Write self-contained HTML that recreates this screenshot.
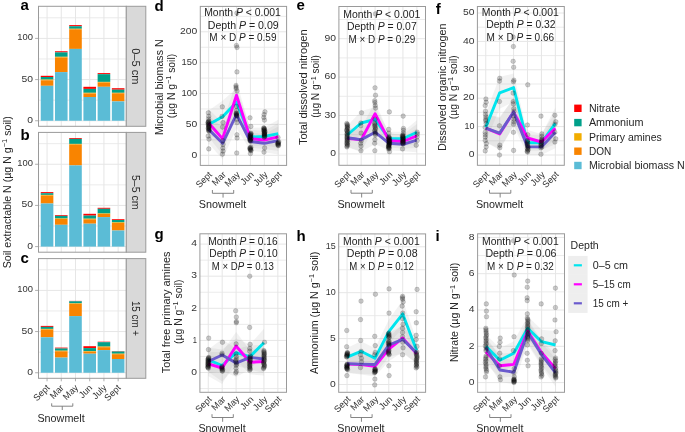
<!DOCTYPE html>
<html><head><meta charset="utf-8"><style>html,body{margin:0;padding:0;background:#fff;}svg{display:block;will-change:transform;}text{font-family:"Liberation Sans", sans-serif;}</style></head>
<body><svg width="685" height="432" viewBox="0 0 685 432"><defs><clipPath id="clipd"><rect x="200.3" y="6.4" width="86.30000000000001" height="159.0"/></clipPath><clipPath id="clipe"><rect x="338.9" y="6.5" width="86.60000000000002" height="158.8"/></clipPath><clipPath id="clipf"><rect x="477.4" y="6.5" width="86.89999999999998" height="158.8"/></clipPath><clipPath id="clipg"><rect x="199.9" y="233.8" width="86.6" height="158.5"/></clipPath><clipPath id="cliph"><rect x="338.7" y="233.9" width="86.90000000000003" height="158.4"/></clipPath><clipPath id="clipi"><rect x="477.6" y="233.8" width="86.89999999999998" height="158.5"/></clipPath></defs>
<rect x="0" y="0" width="685" height="432" fill="#fff"/>
<rect x="38.50" y="6.30" width="87.80" height="120.00" fill="white" />
<line x1="38.50" y1="100.16" x2="126.30" y2="100.16" stroke="#e9e9e9" stroke-width="0.9" />
<line x1="38.50" y1="58.99" x2="126.30" y2="58.99" stroke="#e9e9e9" stroke-width="0.9" />
<line x1="38.50" y1="17.81" x2="126.30" y2="17.81" stroke="#e9e9e9" stroke-width="0.9" />
<line x1="38.50" y1="120.75" x2="126.30" y2="120.75" stroke="#e6e6e6" stroke-width="1" />
<line x1="38.50" y1="79.58" x2="126.30" y2="79.58" stroke="#e6e6e6" stroke-width="1" />
<line x1="38.50" y1="38.40" x2="126.30" y2="38.40" stroke="#e6e6e6" stroke-width="1" />
<line x1="47.05" y1="6.30" x2="47.05" y2="126.30" stroke="#e6e6e6" stroke-width="1" />
<line x1="61.27" y1="6.30" x2="61.27" y2="126.30" stroke="#e6e6e6" stroke-width="1" />
<line x1="75.49" y1="6.30" x2="75.49" y2="126.30" stroke="#e6e6e6" stroke-width="1" />
<line x1="89.71" y1="6.30" x2="89.71" y2="126.30" stroke="#e6e6e6" stroke-width="1" />
<line x1="103.93" y1="6.30" x2="103.93" y2="126.30" stroke="#e6e6e6" stroke-width="1" />
<line x1="118.15" y1="6.30" x2="118.15" y2="126.30" stroke="#e6e6e6" stroke-width="1" />
<rect x="40.75" y="75.80" width="12.60" height="1.20" fill="#FF0000" />
<rect x="40.75" y="77.00" width="12.60" height="2.60" fill="#00A08A" />
<rect x="40.75" y="79.60" width="12.60" height="0.70" fill="#F2AD00" />
<rect x="40.75" y="80.30" width="12.60" height="5.50" fill="#F98400" />
<rect x="40.75" y="85.80" width="12.60" height="34.95" fill="#5BBCD6" />
<rect x="54.97" y="51.25" width="12.60" height="1.15" fill="#FF0000" />
<rect x="54.97" y="52.40" width="12.60" height="4.40" fill="#00A08A" />
<rect x="54.97" y="56.80" width="12.60" height="0.70" fill="#F2AD00" />
<rect x="54.97" y="57.50" width="12.60" height="14.60" fill="#F98400" />
<rect x="54.97" y="72.10" width="12.60" height="48.65" fill="#5BBCD6" />
<rect x="69.19" y="25.10" width="12.60" height="1.15" fill="#FF0000" />
<rect x="69.19" y="26.25" width="12.60" height="2.50" fill="#00A08A" />
<rect x="69.19" y="28.75" width="12.60" height="0.55" fill="#F2AD00" />
<rect x="69.19" y="29.30" width="12.60" height="19.60" fill="#F98400" />
<rect x="69.19" y="48.90" width="12.60" height="71.85" fill="#5BBCD6" />
<rect x="83.41" y="86.80" width="12.60" height="2.10" fill="#FF0000" />
<rect x="83.41" y="88.90" width="12.60" height="3.90" fill="#00A08A" />
<rect x="83.41" y="92.80" width="12.60" height="0.70" fill="#F2AD00" />
<rect x="83.41" y="93.50" width="12.60" height="3.50" fill="#F98400" />
<rect x="83.41" y="97.00" width="12.60" height="23.75" fill="#5BBCD6" />
<rect x="97.63" y="73.10" width="12.60" height="1.10" fill="#FF0000" />
<rect x="97.63" y="74.20" width="12.60" height="7.70" fill="#00A08A" />
<rect x="97.63" y="81.90" width="12.60" height="0.70" fill="#F2AD00" />
<rect x="97.63" y="82.60" width="12.60" height="4.20" fill="#F98400" />
<rect x="97.63" y="86.80" width="12.60" height="33.95" fill="#5BBCD6" />
<rect x="111.85" y="88.20" width="12.60" height="1.50" fill="#FF0000" />
<rect x="111.85" y="89.70" width="12.60" height="3.10" fill="#00A08A" />
<rect x="111.85" y="92.80" width="12.60" height="0.50" fill="#F2AD00" />
<rect x="111.85" y="93.30" width="12.60" height="8.10" fill="#F98400" />
<rect x="111.85" y="101.40" width="12.60" height="19.35" fill="#5BBCD6" />
<rect x="38.50" y="6.30" width="87.80" height="120.00" fill="none" stroke="#9a9a9a" stroke-width="1" />
<rect x="126.30" y="6.30" width="19.50" height="120.00" fill="#d9d9d9" stroke="#9a9a9a" stroke-width="1" />
<text x="136.45" y="66.30" font-size="10.8" text-anchor="middle" dominant-baseline="central" fill="#262626" textLength="36.2" lengthAdjust="spacingAndGlyphs" transform="rotate(90 136.45 66.30)">0–5 cm</text>
<line x1="35.10" y1="120.75" x2="38.50" y2="120.75" stroke="#9a9a9a" stroke-width="0.8" />
<text x="32.90" y="122.75" font-size="9.0" text-anchor="end" font-weight="normal" fill="#333333"  textLength="5.75" lengthAdjust="spacingAndGlyphs" style="">0</text>
<line x1="35.10" y1="79.58" x2="38.50" y2="79.58" stroke="#9a9a9a" stroke-width="0.8" />
<text x="32.90" y="81.58" font-size="9.0" text-anchor="end" font-weight="normal" fill="#333333"  textLength="11.5" lengthAdjust="spacingAndGlyphs" style="">50</text>
<line x1="35.10" y1="38.40" x2="38.50" y2="38.40" stroke="#9a9a9a" stroke-width="0.8" />
<text x="32.90" y="40.40" font-size="9.0" text-anchor="end" font-weight="normal" fill="#333333"  textLength="15.7" lengthAdjust="spacingAndGlyphs" style="">100</text>
<text x="20.60" y="9.80" font-size="15" text-anchor="start" font-weight="bold" fill="#000"  style="">a</text>
<rect x="38.50" y="132.40" width="87.80" height="119.80" fill="white" />
<line x1="38.50" y1="226.01" x2="126.30" y2="226.01" stroke="#e9e9e9" stroke-width="0.9" />
<line x1="38.50" y1="184.84" x2="126.30" y2="184.84" stroke="#e9e9e9" stroke-width="0.9" />
<line x1="38.50" y1="143.66" x2="126.30" y2="143.66" stroke="#e9e9e9" stroke-width="0.9" />
<line x1="38.50" y1="246.60" x2="126.30" y2="246.60" stroke="#e6e6e6" stroke-width="1" />
<line x1="38.50" y1="205.43" x2="126.30" y2="205.43" stroke="#e6e6e6" stroke-width="1" />
<line x1="38.50" y1="164.25" x2="126.30" y2="164.25" stroke="#e6e6e6" stroke-width="1" />
<line x1="47.05" y1="132.40" x2="47.05" y2="252.20" stroke="#e6e6e6" stroke-width="1" />
<line x1="61.27" y1="132.40" x2="61.27" y2="252.20" stroke="#e6e6e6" stroke-width="1" />
<line x1="75.49" y1="132.40" x2="75.49" y2="252.20" stroke="#e6e6e6" stroke-width="1" />
<line x1="89.71" y1="132.40" x2="89.71" y2="252.20" stroke="#e6e6e6" stroke-width="1" />
<line x1="103.93" y1="132.40" x2="103.93" y2="252.20" stroke="#e6e6e6" stroke-width="1" />
<line x1="118.15" y1="132.40" x2="118.15" y2="252.20" stroke="#e6e6e6" stroke-width="1" />
<rect x="40.75" y="192.10" width="12.60" height="1.10" fill="#FF0000" />
<rect x="40.75" y="193.20" width="12.60" height="1.70" fill="#00A08A" />
<rect x="40.75" y="194.90" width="12.60" height="0.60" fill="#F2AD00" />
<rect x="40.75" y="195.50" width="12.60" height="8.00" fill="#F98400" />
<rect x="40.75" y="203.50" width="12.60" height="43.10" fill="#5BBCD6" />
<rect x="54.97" y="215.10" width="12.60" height="0.80" fill="#FF0000" />
<rect x="54.97" y="215.90" width="12.60" height="2.60" fill="#00A08A" />
<rect x="54.97" y="218.50" width="12.60" height="0.50" fill="#F2AD00" />
<rect x="54.97" y="219.00" width="12.60" height="5.80" fill="#F98400" />
<rect x="54.97" y="224.80" width="12.60" height="21.80" fill="#5BBCD6" />
<rect x="69.19" y="138.05" width="12.60" height="0.85" fill="#FF0000" />
<rect x="69.19" y="138.90" width="12.60" height="5.00" fill="#00A08A" />
<rect x="69.19" y="143.90" width="12.60" height="0.70" fill="#F2AD00" />
<rect x="69.19" y="144.60" width="12.60" height="20.80" fill="#F98400" />
<rect x="69.19" y="165.40" width="12.60" height="81.20" fill="#5BBCD6" />
<rect x="83.41" y="213.80" width="12.60" height="1.80" fill="#FF0000" />
<rect x="83.41" y="215.60" width="12.60" height="3.10" fill="#00A08A" />
<rect x="83.41" y="218.70" width="12.60" height="0.60" fill="#F2AD00" />
<rect x="83.41" y="219.30" width="12.60" height="4.40" fill="#F98400" />
<rect x="83.41" y="223.70" width="12.60" height="22.90" fill="#5BBCD6" />
<rect x="97.63" y="207.80" width="12.60" height="1.00" fill="#FF0000" />
<rect x="97.63" y="208.80" width="12.60" height="4.70" fill="#00A08A" />
<rect x="97.63" y="213.50" width="12.60" height="0.50" fill="#F2AD00" />
<rect x="97.63" y="214.00" width="12.60" height="3.10" fill="#F98400" />
<rect x="97.63" y="217.10" width="12.60" height="29.50" fill="#5BBCD6" />
<rect x="111.85" y="219.20" width="12.60" height="0.80" fill="#FF0000" />
<rect x="111.85" y="220.00" width="12.60" height="2.40" fill="#00A08A" />
<rect x="111.85" y="222.40" width="12.60" height="0.60" fill="#F2AD00" />
<rect x="111.85" y="223.00" width="12.60" height="7.50" fill="#F98400" />
<rect x="111.85" y="230.50" width="12.60" height="16.10" fill="#5BBCD6" />
<rect x="38.50" y="132.40" width="87.80" height="119.80" fill="none" stroke="#9a9a9a" stroke-width="1" />
<rect x="126.30" y="132.40" width="19.50" height="119.80" fill="#d9d9d9" stroke="#9a9a9a" stroke-width="1" />
<text x="136.45" y="192.30" font-size="10.8" text-anchor="middle" dominant-baseline="central" fill="#262626" textLength="34.6" lengthAdjust="spacingAndGlyphs" transform="rotate(90 136.45 192.30)">5–5 cm</text>
<line x1="35.10" y1="246.60" x2="38.50" y2="246.60" stroke="#9a9a9a" stroke-width="0.8" />
<text x="32.90" y="248.60" font-size="9.0" text-anchor="end" font-weight="normal" fill="#333333"  textLength="5.75" lengthAdjust="spacingAndGlyphs" style="">0</text>
<line x1="35.10" y1="205.43" x2="38.50" y2="205.43" stroke="#9a9a9a" stroke-width="0.8" />
<text x="32.90" y="207.43" font-size="9.0" text-anchor="end" font-weight="normal" fill="#333333"  textLength="11.5" lengthAdjust="spacingAndGlyphs" style="">50</text>
<line x1="35.10" y1="164.25" x2="38.50" y2="164.25" stroke="#9a9a9a" stroke-width="0.8" />
<text x="32.90" y="166.25" font-size="9.0" text-anchor="end" font-weight="normal" fill="#333333"  textLength="15.7" lengthAdjust="spacingAndGlyphs" style="">100</text>
<text x="20.60" y="139.70" font-size="15" text-anchor="start" font-weight="bold" fill="#000"  style="">b</text>
<rect x="38.50" y="258.60" width="87.80" height="119.70" fill="white" />
<line x1="38.50" y1="352.16" x2="126.30" y2="352.16" stroke="#e9e9e9" stroke-width="0.9" />
<line x1="38.50" y1="310.99" x2="126.30" y2="310.99" stroke="#e9e9e9" stroke-width="0.9" />
<line x1="38.50" y1="269.81" x2="126.30" y2="269.81" stroke="#e9e9e9" stroke-width="0.9" />
<line x1="38.50" y1="372.75" x2="126.30" y2="372.75" stroke="#e6e6e6" stroke-width="1" />
<line x1="38.50" y1="331.57" x2="126.30" y2="331.57" stroke="#e6e6e6" stroke-width="1" />
<line x1="38.50" y1="290.40" x2="126.30" y2="290.40" stroke="#e6e6e6" stroke-width="1" />
<line x1="47.05" y1="258.60" x2="47.05" y2="378.30" stroke="#e6e6e6" stroke-width="1" />
<line x1="61.27" y1="258.60" x2="61.27" y2="378.30" stroke="#e6e6e6" stroke-width="1" />
<line x1="75.49" y1="258.60" x2="75.49" y2="378.30" stroke="#e6e6e6" stroke-width="1" />
<line x1="89.71" y1="258.60" x2="89.71" y2="378.30" stroke="#e6e6e6" stroke-width="1" />
<line x1="103.93" y1="258.60" x2="103.93" y2="378.30" stroke="#e6e6e6" stroke-width="1" />
<line x1="118.15" y1="258.60" x2="118.15" y2="378.30" stroke="#e6e6e6" stroke-width="1" />
<rect x="40.75" y="325.90" width="12.60" height="1.00" fill="#FF0000" />
<rect x="40.75" y="326.90" width="12.60" height="2.00" fill="#00A08A" />
<rect x="40.75" y="328.90" width="12.60" height="0.60" fill="#F2AD00" />
<rect x="40.75" y="329.50" width="12.60" height="7.80" fill="#F98400" />
<rect x="40.75" y="337.30" width="12.60" height="35.45" fill="#5BBCD6" />
<rect x="54.97" y="347.60" width="12.60" height="0.90" fill="#FF0000" />
<rect x="54.97" y="348.50" width="12.60" height="2.20" fill="#00A08A" />
<rect x="54.97" y="350.70" width="12.60" height="0.60" fill="#F2AD00" />
<rect x="54.97" y="351.30" width="12.60" height="6.30" fill="#F98400" />
<rect x="54.97" y="357.60" width="12.60" height="15.15" fill="#5BBCD6" />
<rect x="69.19" y="300.90" width="12.60" height="0.40" fill="#FF0000" />
<rect x="69.19" y="301.30" width="12.60" height="2.00" fill="#00A08A" />
<rect x="69.19" y="303.30" width="12.60" height="0.50" fill="#F2AD00" />
<rect x="69.19" y="303.80" width="12.60" height="12.30" fill="#F98400" />
<rect x="69.19" y="316.10" width="12.60" height="56.65" fill="#5BBCD6" />
<rect x="83.41" y="346.20" width="12.60" height="1.90" fill="#FF0000" />
<rect x="83.41" y="348.10" width="12.60" height="3.00" fill="#00A08A" />
<rect x="83.41" y="351.10" width="12.60" height="0.60" fill="#F2AD00" />
<rect x="83.41" y="351.70" width="12.60" height="2.00" fill="#F98400" />
<rect x="83.41" y="353.70" width="12.60" height="19.05" fill="#5BBCD6" />
<rect x="97.63" y="341.70" width="12.60" height="0.50" fill="#FF0000" />
<rect x="97.63" y="342.20" width="12.60" height="4.40" fill="#00A08A" />
<rect x="97.63" y="346.60" width="12.60" height="0.60" fill="#F2AD00" />
<rect x="97.63" y="347.20" width="12.60" height="2.90" fill="#F98400" />
<rect x="97.63" y="350.10" width="12.60" height="22.65" fill="#5BBCD6" />
<rect x="111.85" y="351.10" width="12.60" height="0.40" fill="#FF0000" />
<rect x="111.85" y="351.50" width="12.60" height="2.20" fill="#00A08A" />
<rect x="111.85" y="353.70" width="12.60" height="0.50" fill="#F2AD00" />
<rect x="111.85" y="354.20" width="12.60" height="4.80" fill="#F98400" />
<rect x="111.85" y="359.00" width="12.60" height="13.75" fill="#5BBCD6" />
<rect x="38.50" y="258.60" width="87.80" height="119.70" fill="none" stroke="#9a9a9a" stroke-width="1" />
<rect x="126.30" y="258.60" width="19.50" height="119.70" fill="#d9d9d9" stroke="#9a9a9a" stroke-width="1" />
<text x="136.45" y="318.45" font-size="10.8" text-anchor="middle" dominant-baseline="central" fill="#262626" textLength="35.0" lengthAdjust="spacingAndGlyphs" transform="rotate(90 136.45 318.45)">15 cm +</text>
<line x1="35.10" y1="372.75" x2="38.50" y2="372.75" stroke="#9a9a9a" stroke-width="0.8" />
<text x="32.90" y="374.75" font-size="9.0" text-anchor="end" font-weight="normal" fill="#333333"  textLength="5.75" lengthAdjust="spacingAndGlyphs" style="">0</text>
<line x1="35.10" y1="331.57" x2="38.50" y2="331.57" stroke="#9a9a9a" stroke-width="0.8" />
<text x="32.90" y="333.57" font-size="9.0" text-anchor="end" font-weight="normal" fill="#333333"  textLength="11.5" lengthAdjust="spacingAndGlyphs" style="">50</text>
<line x1="35.10" y1="290.40" x2="38.50" y2="290.40" stroke="#9a9a9a" stroke-width="0.8" />
<text x="32.90" y="292.40" font-size="9.0" text-anchor="end" font-weight="normal" fill="#333333"  textLength="15.7" lengthAdjust="spacingAndGlyphs" style="">100</text>
<text x="20.60" y="262.60" font-size="15" text-anchor="start" font-weight="bold" fill="#000"  style="">c</text>
<line x1="47.05" y1="378.30" x2="47.05" y2="381.30" stroke="#9a9a9a" stroke-width="0.8" />
<line x1="61.27" y1="378.30" x2="61.27" y2="381.30" stroke="#9a9a9a" stroke-width="0.8" />
<line x1="75.49" y1="378.30" x2="75.49" y2="381.30" stroke="#9a9a9a" stroke-width="0.8" />
<line x1="89.71" y1="378.30" x2="89.71" y2="381.30" stroke="#9a9a9a" stroke-width="0.8" />
<line x1="103.93" y1="378.30" x2="103.93" y2="381.30" stroke="#9a9a9a" stroke-width="0.8" />
<line x1="118.15" y1="378.30" x2="118.15" y2="381.30" stroke="#9a9a9a" stroke-width="0.8" />
<text x="50.25" y="388.30" font-size="9.1" text-anchor="end" fill="#333333" transform="rotate(-45 50.25 388.30)">Sept</text>
<text x="64.47" y="388.30" font-size="9.1" text-anchor="end" fill="#333333" transform="rotate(-45 64.47 388.30)">Mar</text>
<text x="78.69" y="388.30" font-size="9.1" text-anchor="end" fill="#333333" transform="rotate(-45 78.69 388.30)">May</text>
<text x="92.91" y="388.30" font-size="9.1" text-anchor="end" fill="#333333" transform="rotate(-45 92.91 388.30)">Jun</text>
<text x="107.13" y="388.30" font-size="9.1" text-anchor="end" fill="#333333" transform="rotate(-45 107.13 388.30)">July</text>
<text x="121.35" y="388.30" font-size="9.1" text-anchor="end" fill="#333333" transform="rotate(-45 121.35 388.30)">Sept</text>
<polyline points="51.70,403.30 51.70,406.20 72.80,406.20 72.80,403.30" fill="none" stroke="#777" stroke-width="0.9"/>
<line x1="62.25" y1="406.20" x2="62.25" y2="410.00" stroke="#777" stroke-width="0.9" />
<text x="61.10" y="422.00" font-size="10.3" text-anchor="middle" font-weight="normal" fill="#262626"  textLength="47.3" lengthAdjust="spacingAndGlyphs" style="">Snowmelt</text>
<text x="10.6" y="192.3" font-size="10.5" text-anchor="middle" fill="#262626" textLength="152" lengthAdjust="spacingAndGlyphs" transform="rotate(-90 10.6 192.3)">Soil extractable N (µg N g<tspan dy="-3.5" font-size="7.5">−1</tspan><tspan dy="3.5"> soil)</tspan></text>
<rect x="574.20" y="104.60" width="7.40" height="7.40" fill="#FF0000" />
<text x="588.90" y="111.90" font-size="10.1" text-anchor="start" font-weight="normal" fill="#262626"  textLength="31.2" lengthAdjust="spacingAndGlyphs" style="">Nitrate</text>
<rect x="574.20" y="118.90" width="7.40" height="7.40" fill="#00A08A" />
<text x="588.90" y="126.20" font-size="10.1" text-anchor="start" font-weight="normal" fill="#262626"  textLength="54.6" lengthAdjust="spacingAndGlyphs" style="">Ammonium</text>
<rect x="574.20" y="133.20" width="7.40" height="7.40" fill="#F2AD00" />
<text x="588.90" y="140.50" font-size="10.1" text-anchor="start" font-weight="normal" fill="#262626"  textLength="72.9" lengthAdjust="spacingAndGlyphs" style="">Primary amines</text>
<rect x="574.20" y="147.50" width="7.40" height="7.40" fill="#F98400" />
<text x="588.90" y="154.80" font-size="10.1" text-anchor="start" font-weight="normal" fill="#262626"  textLength="22.3" lengthAdjust="spacingAndGlyphs" style="">DON</text>
<rect x="574.20" y="161.80" width="7.40" height="7.40" fill="#5BBCD6" />
<text x="588.90" y="169.10" font-size="10.1" text-anchor="start" font-weight="normal" fill="#262626"  textLength="95.8" lengthAdjust="spacingAndGlyphs" style="">Microbial biomass N</text>
<text x="570.60" y="248.90" font-size="10.1" text-anchor="start" font-weight="normal" fill="#262626"  textLength="28.1" lengthAdjust="spacingAndGlyphs" style="">Depth</text>
<rect x="568.20" y="255.90" width="19.40" height="19.00" fill="#eeeeee" />
<line x1="573.80" y1="265.30" x2="581.90" y2="265.30" stroke="#00E5EE" stroke-width="2.2" />
<text x="592.80" y="268.90" font-size="10.1" text-anchor="start" font-weight="normal" fill="#262626"  textLength="35.2" lengthAdjust="spacingAndGlyphs" style="">0–5 cm</text>
<rect x="568.20" y="274.90" width="19.40" height="19.00" fill="#eeeeee" />
<line x1="573.80" y1="284.30" x2="581.90" y2="284.30" stroke="#FF00FF" stroke-width="2.2" />
<text x="592.80" y="287.90" font-size="10.1" text-anchor="start" font-weight="normal" fill="#262626"  textLength="37.9" lengthAdjust="spacingAndGlyphs" style="">5–15 cm</text>
<rect x="568.20" y="293.90" width="19.40" height="19.00" fill="#eeeeee" />
<line x1="573.80" y1="303.30" x2="581.90" y2="303.30" stroke="#6A5ACD" stroke-width="2.2" />
<text x="592.80" y="306.90" font-size="10.1" text-anchor="start" font-weight="normal" fill="#262626"  textLength="35.5" lengthAdjust="spacingAndGlyphs" style="">15 cm +</text>
<rect x="200.30" y="6.40" width="86.30" height="159.00" fill="white" />
<g clip-path="url(#clipd)">
<line x1="200.30" y1="139.86" x2="286.60" y2="139.86" stroke="#e9e9e9" stroke-width="0.9" />
<line x1="200.30" y1="108.99" x2="286.60" y2="108.99" stroke="#e9e9e9" stroke-width="0.9" />
<line x1="200.30" y1="78.11" x2="286.60" y2="78.11" stroke="#e9e9e9" stroke-width="0.9" />
<line x1="200.30" y1="47.24" x2="286.60" y2="47.24" stroke="#e9e9e9" stroke-width="0.9" />
<line x1="200.30" y1="16.36" x2="286.60" y2="16.36" stroke="#e9e9e9" stroke-width="0.9" />
<line x1="200.30" y1="155.30" x2="286.60" y2="155.30" stroke="#e6e6e6" stroke-width="1" />
<line x1="200.30" y1="124.43" x2="286.60" y2="124.43" stroke="#e6e6e6" stroke-width="1" />
<line x1="200.30" y1="93.55" x2="286.60" y2="93.55" stroke="#e6e6e6" stroke-width="1" />
<line x1="200.30" y1="62.67" x2="286.60" y2="62.67" stroke="#e6e6e6" stroke-width="1" />
<line x1="200.30" y1="31.80" x2="286.60" y2="31.80" stroke="#e6e6e6" stroke-width="1" />
<line x1="208.65" y1="6.40" x2="208.65" y2="165.40" stroke="#e6e6e6" stroke-width="1" />
<line x1="222.57" y1="6.40" x2="222.57" y2="165.40" stroke="#e6e6e6" stroke-width="1" />
<line x1="236.49" y1="6.40" x2="236.49" y2="165.40" stroke="#e6e6e6" stroke-width="1" />
<line x1="250.41" y1="6.40" x2="250.41" y2="165.40" stroke="#e6e6e6" stroke-width="1" />
<line x1="264.33" y1="6.40" x2="264.33" y2="165.40" stroke="#e6e6e6" stroke-width="1" />
<line x1="278.25" y1="6.40" x2="278.25" y2="165.40" stroke="#e6e6e6" stroke-width="1" />
<polygon points="208.65,110.60 222.57,100.80 236.49,88.20 250.41,128.00 264.33,127.50 278.25,119.70 278.25,147.70 264.33,145.50 250.41,146.00 236.49,116.20 222.57,132.80 208.65,138.60" fill="#9a9a9a" fill-opacity="0.13"/>
<polygon points="208.65,109.00 222.57,122.70 236.49,81.20 250.41,129.70 264.33,131.00 278.25,122.90 278.25,150.90 264.33,149.00 250.41,147.70 236.49,109.20 222.57,154.70 208.65,137.00" fill="#9a9a9a" fill-opacity="0.13"/>
<polygon points="208.65,115.40 222.57,127.30 236.49,100.30 250.41,132.50 264.33,134.30 278.25,126.60 278.25,154.60 264.33,152.30 250.41,150.50 236.49,128.30 222.57,159.30 208.65,143.40" fill="#9a9a9a" fill-opacity="0.13"/>
<polyline points="208.65,124.60 222.57,116.80 236.49,102.20 250.41,137.00 264.33,136.50 278.25,133.70" fill="none" stroke="#00E5EE" stroke-width="2.9" stroke-linejoin="round"/>
<polyline points="208.65,123.00 222.57,138.70 236.49,95.20 250.41,138.70 264.33,140.00 278.25,136.90" fill="none" stroke="#FF00FF" stroke-width="2.9" stroke-linejoin="round"/>
<polyline points="208.65,129.40 222.57,143.30 236.49,114.30 250.41,141.50 264.33,143.30 278.25,140.60" fill="none" stroke="#6A5ACD" stroke-width="2.9" stroke-linejoin="round"/>
<circle cx="208.34" cy="112.80" r="2.3" fill="#000" fill-opacity="0.2" stroke="#000" stroke-opacity="0.2" stroke-width="0.7"/>
<circle cx="208.70" cy="116.20" r="2.3" fill="#000" fill-opacity="0.2" stroke="#000" stroke-opacity="0.2" stroke-width="0.7"/>
<circle cx="208.49" cy="119.00" r="2.3" fill="#000" fill-opacity="0.2" stroke="#000" stroke-opacity="0.2" stroke-width="0.7"/>
<circle cx="208.77" cy="121.00" r="2.3" fill="#000" fill-opacity="0.2" stroke="#000" stroke-opacity="0.2" stroke-width="0.7"/>
<circle cx="208.80" cy="121.60" r="2.3" fill="#000" fill-opacity="0.2" stroke="#000" stroke-opacity="0.2" stroke-width="0.7"/>
<circle cx="208.13" cy="122.20" r="2.3" fill="#000" fill-opacity="0.2" stroke="#000" stroke-opacity="0.2" stroke-width="0.7"/>
<circle cx="208.07" cy="122.80" r="2.3" fill="#000" fill-opacity="0.2" stroke="#000" stroke-opacity="0.2" stroke-width="0.7"/>
<circle cx="209.05" cy="123.40" r="2.3" fill="#000" fill-opacity="0.2" stroke="#000" stroke-opacity="0.2" stroke-width="0.7"/>
<circle cx="208.36" cy="124.00" r="2.3" fill="#000" fill-opacity="0.2" stroke="#000" stroke-opacity="0.2" stroke-width="0.7"/>
<circle cx="208.33" cy="124.60" r="2.3" fill="#000" fill-opacity="0.2" stroke="#000" stroke-opacity="0.2" stroke-width="0.7"/>
<circle cx="209.24" cy="125.20" r="2.3" fill="#000" fill-opacity="0.2" stroke="#000" stroke-opacity="0.2" stroke-width="0.7"/>
<circle cx="208.61" cy="125.80" r="2.3" fill="#000" fill-opacity="0.2" stroke="#000" stroke-opacity="0.2" stroke-width="0.7"/>
<circle cx="209.05" cy="126.40" r="2.3" fill="#000" fill-opacity="0.2" stroke="#000" stroke-opacity="0.2" stroke-width="0.7"/>
<circle cx="208.62" cy="127.00" r="2.3" fill="#000" fill-opacity="0.2" stroke="#000" stroke-opacity="0.2" stroke-width="0.7"/>
<circle cx="208.82" cy="127.60" r="2.3" fill="#000" fill-opacity="0.2" stroke="#000" stroke-opacity="0.2" stroke-width="0.7"/>
<circle cx="208.23" cy="128.20" r="2.3" fill="#000" fill-opacity="0.2" stroke="#000" stroke-opacity="0.2" stroke-width="0.7"/>
<circle cx="208.81" cy="128.80" r="2.3" fill="#000" fill-opacity="0.2" stroke="#000" stroke-opacity="0.2" stroke-width="0.7"/>
<circle cx="209.09" cy="129.40" r="2.3" fill="#000" fill-opacity="0.2" stroke="#000" stroke-opacity="0.2" stroke-width="0.7"/>
<circle cx="208.68" cy="130.00" r="2.3" fill="#000" fill-opacity="0.2" stroke="#000" stroke-opacity="0.2" stroke-width="0.7"/>
<circle cx="208.94" cy="130.60" r="2.3" fill="#000" fill-opacity="0.2" stroke="#000" stroke-opacity="0.2" stroke-width="0.7"/>
<circle cx="208.86" cy="131.20" r="2.3" fill="#000" fill-opacity="0.2" stroke="#000" stroke-opacity="0.2" stroke-width="0.7"/>
<circle cx="208.13" cy="136.10" r="2.3" fill="#000" fill-opacity="0.2" stroke="#000" stroke-opacity="0.2" stroke-width="0.7"/>
<circle cx="208.96" cy="139.10" r="2.3" fill="#000" fill-opacity="0.2" stroke="#000" stroke-opacity="0.2" stroke-width="0.7"/>
<circle cx="208.76" cy="148.90" r="2.3" fill="#000" fill-opacity="0.2" stroke="#000" stroke-opacity="0.2" stroke-width="0.7"/>
<circle cx="222.33" cy="106.80" r="2.3" fill="#000" fill-opacity="0.2" stroke="#000" stroke-opacity="0.2" stroke-width="0.7"/>
<circle cx="222.01" cy="116.50" r="2.3" fill="#000" fill-opacity="0.2" stroke="#000" stroke-opacity="0.2" stroke-width="0.7"/>
<circle cx="223.01" cy="122.60" r="2.3" fill="#000" fill-opacity="0.2" stroke="#000" stroke-opacity="0.2" stroke-width="0.7"/>
<circle cx="222.54" cy="127.10" r="2.3" fill="#000" fill-opacity="0.2" stroke="#000" stroke-opacity="0.2" stroke-width="0.7"/>
<circle cx="222.83" cy="140.60" r="2.3" fill="#000" fill-opacity="0.2" stroke="#000" stroke-opacity="0.2" stroke-width="0.7"/>
<circle cx="223.02" cy="144.40" r="2.3" fill="#000" fill-opacity="0.2" stroke="#000" stroke-opacity="0.2" stroke-width="0.7"/>
<circle cx="222.83" cy="148.10" r="2.3" fill="#000" fill-opacity="0.2" stroke="#000" stroke-opacity="0.2" stroke-width="0.7"/>
<circle cx="223.08" cy="151.10" r="2.3" fill="#000" fill-opacity="0.2" stroke="#000" stroke-opacity="0.2" stroke-width="0.7"/>
<circle cx="222.44" cy="154.10" r="2.3" fill="#000" fill-opacity="0.2" stroke="#000" stroke-opacity="0.2" stroke-width="0.7"/>
<circle cx="236.85" cy="13.10" r="2.3" fill="#000" fill-opacity="0.2" stroke="#000" stroke-opacity="0.2" stroke-width="0.7"/>
<circle cx="236.42" cy="45.50" r="2.3" fill="#000" fill-opacity="0.2" stroke="#000" stroke-opacity="0.2" stroke-width="0.7"/>
<circle cx="237.01" cy="47.50" r="2.3" fill="#000" fill-opacity="0.2" stroke="#000" stroke-opacity="0.2" stroke-width="0.7"/>
<circle cx="236.94" cy="71.90" r="2.3" fill="#000" fill-opacity="0.2" stroke="#000" stroke-opacity="0.2" stroke-width="0.7"/>
<circle cx="236.01" cy="85.50" r="2.3" fill="#000" fill-opacity="0.2" stroke="#000" stroke-opacity="0.2" stroke-width="0.7"/>
<circle cx="236.05" cy="87.00" r="2.3" fill="#000" fill-opacity="0.2" stroke="#000" stroke-opacity="0.2" stroke-width="0.7"/>
<circle cx="236.15" cy="88.50" r="2.3" fill="#000" fill-opacity="0.2" stroke="#000" stroke-opacity="0.2" stroke-width="0.7"/>
<circle cx="237.05" cy="91.00" r="2.3" fill="#000" fill-opacity="0.2" stroke="#000" stroke-opacity="0.2" stroke-width="0.7"/>
<circle cx="236.41" cy="106.30" r="2.3" fill="#000" fill-opacity="0.2" stroke="#000" stroke-opacity="0.2" stroke-width="0.7"/>
<circle cx="236.64" cy="110.40" r="2.3" fill="#000" fill-opacity="0.2" stroke="#000" stroke-opacity="0.2" stroke-width="0.7"/>
<circle cx="236.25" cy="113.00" r="2.3" fill="#000" fill-opacity="0.2" stroke="#000" stroke-opacity="0.2" stroke-width="0.7"/>
<circle cx="236.50" cy="113.50" r="2.3" fill="#000" fill-opacity="0.2" stroke="#000" stroke-opacity="0.2" stroke-width="0.7"/>
<circle cx="236.35" cy="114.00" r="2.3" fill="#000" fill-opacity="0.2" stroke="#000" stroke-opacity="0.2" stroke-width="0.7"/>
<circle cx="236.31" cy="114.50" r="2.3" fill="#000" fill-opacity="0.2" stroke="#000" stroke-opacity="0.2" stroke-width="0.7"/>
<circle cx="236.59" cy="115.00" r="2.3" fill="#000" fill-opacity="0.2" stroke="#000" stroke-opacity="0.2" stroke-width="0.7"/>
<circle cx="236.59" cy="115.50" r="2.3" fill="#000" fill-opacity="0.2" stroke="#000" stroke-opacity="0.2" stroke-width="0.7"/>
<circle cx="236.98" cy="116.00" r="2.3" fill="#000" fill-opacity="0.2" stroke="#000" stroke-opacity="0.2" stroke-width="0.7"/>
<circle cx="236.71" cy="119.30" r="2.3" fill="#000" fill-opacity="0.2" stroke="#000" stroke-opacity="0.2" stroke-width="0.7"/>
<circle cx="237.00" cy="122.60" r="2.3" fill="#000" fill-opacity="0.2" stroke="#000" stroke-opacity="0.2" stroke-width="0.7"/>
<circle cx="236.92" cy="134.70" r="2.3" fill="#000" fill-opacity="0.2" stroke="#000" stroke-opacity="0.2" stroke-width="0.7"/>
<circle cx="237.08" cy="138.00" r="2.3" fill="#000" fill-opacity="0.2" stroke="#000" stroke-opacity="0.2" stroke-width="0.7"/>
<circle cx="236.70" cy="153.00" r="2.3" fill="#000" fill-opacity="0.2" stroke="#000" stroke-opacity="0.2" stroke-width="0.7"/>
<circle cx="250.01" cy="117.80" r="2.3" fill="#000" fill-opacity="0.2" stroke="#000" stroke-opacity="0.2" stroke-width="0.7"/>
<circle cx="250.84" cy="126.40" r="2.3" fill="#000" fill-opacity="0.2" stroke="#000" stroke-opacity="0.2" stroke-width="0.7"/>
<circle cx="250.97" cy="133.30" r="2.3" fill="#000" fill-opacity="0.2" stroke="#000" stroke-opacity="0.2" stroke-width="0.7"/>
<circle cx="250.90" cy="133.80" r="2.3" fill="#000" fill-opacity="0.2" stroke="#000" stroke-opacity="0.2" stroke-width="0.7"/>
<circle cx="250.49" cy="134.30" r="2.3" fill="#000" fill-opacity="0.2" stroke="#000" stroke-opacity="0.2" stroke-width="0.7"/>
<circle cx="250.67" cy="134.80" r="2.3" fill="#000" fill-opacity="0.2" stroke="#000" stroke-opacity="0.2" stroke-width="0.7"/>
<circle cx="250.06" cy="135.30" r="2.3" fill="#000" fill-opacity="0.2" stroke="#000" stroke-opacity="0.2" stroke-width="0.7"/>
<circle cx="250.81" cy="135.80" r="2.3" fill="#000" fill-opacity="0.2" stroke="#000" stroke-opacity="0.2" stroke-width="0.7"/>
<circle cx="250.50" cy="136.30" r="2.3" fill="#000" fill-opacity="0.2" stroke="#000" stroke-opacity="0.2" stroke-width="0.7"/>
<circle cx="250.15" cy="136.80" r="2.3" fill="#000" fill-opacity="0.2" stroke="#000" stroke-opacity="0.2" stroke-width="0.7"/>
<circle cx="249.89" cy="137.30" r="2.3" fill="#000" fill-opacity="0.2" stroke="#000" stroke-opacity="0.2" stroke-width="0.7"/>
<circle cx="250.83" cy="137.80" r="2.3" fill="#000" fill-opacity="0.2" stroke="#000" stroke-opacity="0.2" stroke-width="0.7"/>
<circle cx="251.00" cy="138.30" r="2.3" fill="#000" fill-opacity="0.2" stroke="#000" stroke-opacity="0.2" stroke-width="0.7"/>
<circle cx="249.92" cy="138.80" r="2.3" fill="#000" fill-opacity="0.2" stroke="#000" stroke-opacity="0.2" stroke-width="0.7"/>
<circle cx="250.77" cy="139.30" r="2.3" fill="#000" fill-opacity="0.2" stroke="#000" stroke-opacity="0.2" stroke-width="0.7"/>
<circle cx="250.30" cy="139.80" r="2.3" fill="#000" fill-opacity="0.2" stroke="#000" stroke-opacity="0.2" stroke-width="0.7"/>
<circle cx="249.99" cy="140.30" r="2.3" fill="#000" fill-opacity="0.2" stroke="#000" stroke-opacity="0.2" stroke-width="0.7"/>
<circle cx="250.16" cy="140.80" r="2.3" fill="#000" fill-opacity="0.2" stroke="#000" stroke-opacity="0.2" stroke-width="0.7"/>
<circle cx="250.73" cy="141.30" r="2.3" fill="#000" fill-opacity="0.2" stroke="#000" stroke-opacity="0.2" stroke-width="0.7"/>
<circle cx="250.86" cy="147.20" r="2.3" fill="#000" fill-opacity="0.2" stroke="#000" stroke-opacity="0.2" stroke-width="0.7"/>
<circle cx="249.86" cy="147.70" r="2.3" fill="#000" fill-opacity="0.2" stroke="#000" stroke-opacity="0.2" stroke-width="0.7"/>
<circle cx="250.55" cy="148.20" r="2.3" fill="#000" fill-opacity="0.2" stroke="#000" stroke-opacity="0.2" stroke-width="0.7"/>
<circle cx="249.86" cy="148.70" r="2.3" fill="#000" fill-opacity="0.2" stroke="#000" stroke-opacity="0.2" stroke-width="0.7"/>
<circle cx="250.67" cy="149.20" r="2.3" fill="#000" fill-opacity="0.2" stroke="#000" stroke-opacity="0.2" stroke-width="0.7"/>
<circle cx="250.21" cy="149.70" r="2.3" fill="#000" fill-opacity="0.2" stroke="#000" stroke-opacity="0.2" stroke-width="0.7"/>
<circle cx="250.87" cy="150.20" r="2.3" fill="#000" fill-opacity="0.2" stroke="#000" stroke-opacity="0.2" stroke-width="0.7"/>
<circle cx="250.99" cy="150.70" r="2.3" fill="#000" fill-opacity="0.2" stroke="#000" stroke-opacity="0.2" stroke-width="0.7"/>
<circle cx="250.42" cy="153.50" r="2.3" fill="#000" fill-opacity="0.2" stroke="#000" stroke-opacity="0.2" stroke-width="0.7"/>
<circle cx="264.93" cy="111.80" r="2.3" fill="#000" fill-opacity="0.2" stroke="#000" stroke-opacity="0.2" stroke-width="0.7"/>
<circle cx="264.10" cy="114.60" r="2.3" fill="#000" fill-opacity="0.2" stroke="#000" stroke-opacity="0.2" stroke-width="0.7"/>
<circle cx="263.82" cy="117.40" r="2.3" fill="#000" fill-opacity="0.2" stroke="#000" stroke-opacity="0.2" stroke-width="0.7"/>
<circle cx="264.45" cy="120.10" r="2.3" fill="#000" fill-opacity="0.2" stroke="#000" stroke-opacity="0.2" stroke-width="0.7"/>
<circle cx="263.77" cy="127.80" r="2.3" fill="#000" fill-opacity="0.2" stroke="#000" stroke-opacity="0.2" stroke-width="0.7"/>
<circle cx="263.97" cy="128.30" r="2.3" fill="#000" fill-opacity="0.2" stroke="#000" stroke-opacity="0.2" stroke-width="0.7"/>
<circle cx="264.22" cy="128.80" r="2.3" fill="#000" fill-opacity="0.2" stroke="#000" stroke-opacity="0.2" stroke-width="0.7"/>
<circle cx="264.46" cy="129.30" r="2.3" fill="#000" fill-opacity="0.2" stroke="#000" stroke-opacity="0.2" stroke-width="0.7"/>
<circle cx="263.92" cy="129.80" r="2.3" fill="#000" fill-opacity="0.2" stroke="#000" stroke-opacity="0.2" stroke-width="0.7"/>
<circle cx="263.78" cy="130.30" r="2.3" fill="#000" fill-opacity="0.2" stroke="#000" stroke-opacity="0.2" stroke-width="0.7"/>
<circle cx="264.77" cy="130.80" r="2.3" fill="#000" fill-opacity="0.2" stroke="#000" stroke-opacity="0.2" stroke-width="0.7"/>
<circle cx="264.11" cy="131.30" r="2.3" fill="#000" fill-opacity="0.2" stroke="#000" stroke-opacity="0.2" stroke-width="0.7"/>
<circle cx="264.88" cy="131.80" r="2.3" fill="#000" fill-opacity="0.2" stroke="#000" stroke-opacity="0.2" stroke-width="0.7"/>
<circle cx="264.81" cy="132.30" r="2.3" fill="#000" fill-opacity="0.2" stroke="#000" stroke-opacity="0.2" stroke-width="0.7"/>
<circle cx="264.18" cy="132.80" r="2.3" fill="#000" fill-opacity="0.2" stroke="#000" stroke-opacity="0.2" stroke-width="0.7"/>
<circle cx="264.28" cy="133.30" r="2.3" fill="#000" fill-opacity="0.2" stroke="#000" stroke-opacity="0.2" stroke-width="0.7"/>
<circle cx="264.35" cy="133.80" r="2.3" fill="#000" fill-opacity="0.2" stroke="#000" stroke-opacity="0.2" stroke-width="0.7"/>
<circle cx="264.50" cy="134.30" r="2.3" fill="#000" fill-opacity="0.2" stroke="#000" stroke-opacity="0.2" stroke-width="0.7"/>
<circle cx="264.44" cy="134.80" r="2.3" fill="#000" fill-opacity="0.2" stroke="#000" stroke-opacity="0.2" stroke-width="0.7"/>
<circle cx="264.40" cy="135.30" r="2.3" fill="#000" fill-opacity="0.2" stroke="#000" stroke-opacity="0.2" stroke-width="0.7"/>
<circle cx="264.47" cy="135.80" r="2.3" fill="#000" fill-opacity="0.2" stroke="#000" stroke-opacity="0.2" stroke-width="0.7"/>
<circle cx="264.86" cy="136.30" r="2.3" fill="#000" fill-opacity="0.2" stroke="#000" stroke-opacity="0.2" stroke-width="0.7"/>
<circle cx="264.34" cy="136.80" r="2.3" fill="#000" fill-opacity="0.2" stroke="#000" stroke-opacity="0.2" stroke-width="0.7"/>
<circle cx="264.25" cy="137.30" r="2.3" fill="#000" fill-opacity="0.2" stroke="#000" stroke-opacity="0.2" stroke-width="0.7"/>
<circle cx="264.59" cy="147.90" r="2.3" fill="#000" fill-opacity="0.2" stroke="#000" stroke-opacity="0.2" stroke-width="0.7"/>
<circle cx="264.02" cy="152.10" r="2.3" fill="#000" fill-opacity="0.2" stroke="#000" stroke-opacity="0.2" stroke-width="0.7"/>
<circle cx="278.01" cy="137.50" r="2.3" fill="#000" fill-opacity="0.2" stroke="#000" stroke-opacity="0.2" stroke-width="0.7"/>
<circle cx="278.82" cy="141.70" r="2.3" fill="#000" fill-opacity="0.2" stroke="#000" stroke-opacity="0.2" stroke-width="0.7"/>
<circle cx="278.28" cy="142.20" r="2.3" fill="#000" fill-opacity="0.2" stroke="#000" stroke-opacity="0.2" stroke-width="0.7"/>
<circle cx="278.31" cy="142.70" r="2.3" fill="#000" fill-opacity="0.2" stroke="#000" stroke-opacity="0.2" stroke-width="0.7"/>
<circle cx="277.66" cy="143.20" r="2.3" fill="#000" fill-opacity="0.2" stroke="#000" stroke-opacity="0.2" stroke-width="0.7"/>
<circle cx="278.15" cy="143.70" r="2.3" fill="#000" fill-opacity="0.2" stroke="#000" stroke-opacity="0.2" stroke-width="0.7"/>
<circle cx="278.35" cy="144.20" r="2.3" fill="#000" fill-opacity="0.2" stroke="#000" stroke-opacity="0.2" stroke-width="0.7"/>
<circle cx="277.67" cy="144.70" r="2.3" fill="#000" fill-opacity="0.2" stroke="#000" stroke-opacity="0.2" stroke-width="0.7"/>
<circle cx="278.39" cy="145.20" r="2.3" fill="#000" fill-opacity="0.2" stroke="#000" stroke-opacity="0.2" stroke-width="0.7"/>
<circle cx="278.41" cy="145.70" r="2.3" fill="#000" fill-opacity="0.2" stroke="#000" stroke-opacity="0.2" stroke-width="0.7"/>
</g>
<rect x="200.30" y="6.40" width="86.30" height="159.00" fill="none" stroke="#9a9a9a" stroke-width="1" />
<text x="242.55" y="16.40" font-size="10.1" text-anchor="middle" font-weight="normal" fill="#222"  textLength="76.7" lengthAdjust="spacingAndGlyphs" style="">Month <tspan font-style="italic">P</tspan> &lt; 0.001</text>
<text x="243.25" y="28.75" font-size="10.1" text-anchor="middle" font-weight="normal" fill="#222"  textLength="70.89999999999999" lengthAdjust="spacingAndGlyphs" style="">Depth <tspan font-style="italic">P</tspan> = 0.09</text>
<text x="242.90" y="41.10" font-size="10.1" text-anchor="middle" font-weight="normal" fill="#222"  textLength="67.2" lengthAdjust="spacingAndGlyphs" style="">M × D <tspan font-style="italic">P</tspan> = 0.59</text>
<text x="197.30" y="157.50" font-size="9.0" text-anchor="end" font-weight="normal" fill="#333333"  textLength="5.75" lengthAdjust="spacingAndGlyphs" style="">0</text>
<text x="197.30" y="126.63" font-size="9.0" text-anchor="end" font-weight="normal" fill="#333333"  textLength="11.5" lengthAdjust="spacingAndGlyphs" style="">50</text>
<text x="197.30" y="95.75" font-size="9.0" text-anchor="end" font-weight="normal" fill="#333333"  textLength="15.7" lengthAdjust="spacingAndGlyphs" style="">100</text>
<text x="197.30" y="64.88" font-size="9.0" text-anchor="end" font-weight="normal" fill="#333333"  textLength="15.7" lengthAdjust="spacingAndGlyphs" style="">150</text>
<text x="197.30" y="34.00" font-size="9.0" text-anchor="end" font-weight="normal" fill="#333333"  textLength="17.25" lengthAdjust="spacingAndGlyphs" style="">200</text>
<text x="162.70" y="87.20" font-size="10.3" text-anchor="middle" fill="#262626" textLength="95.6" lengthAdjust="spacingAndGlyphs" transform="rotate(-90 162.70 87.20)">Microbial biomass N</text>
<text x="175.00" y="86.00" font-size="10.3" text-anchor="middle" fill="#262626" textLength="64.3" lengthAdjust="spacingAndGlyphs" transform="rotate(-90 175.00 86.00)">(µg N g<tspan dy="-3.6" font-size="7.2">−1</tspan><tspan dy="3.6"> soil)</tspan></text>
<text x="212.65" y="175.10" font-size="9.1" text-anchor="end" fill="#333333" transform="rotate(-45 212.65 175.10)">Sept</text>
<text x="226.57" y="175.10" font-size="9.1" text-anchor="end" fill="#333333" transform="rotate(-45 226.57 175.10)">Mar</text>
<text x="240.49" y="175.10" font-size="9.1" text-anchor="end" fill="#333333" transform="rotate(-45 240.49 175.10)">May</text>
<text x="254.41" y="175.10" font-size="9.1" text-anchor="end" fill="#333333" transform="rotate(-45 254.41 175.10)">Jun</text>
<text x="268.33" y="175.10" font-size="9.1" text-anchor="end" fill="#333333" transform="rotate(-45 268.33 175.10)">July</text>
<text x="282.25" y="175.10" font-size="9.1" text-anchor="end" fill="#333333" transform="rotate(-45 282.25 175.10)">Sept</text>
<polyline points="212.40,190.00 212.40,193.30 233.70,193.30 233.70,190.00" fill="none" stroke="#777" stroke-width="0.9"/>
<line x1="223.05" y1="193.30" x2="223.05" y2="197.60" stroke="#777" stroke-width="0.9" />
<text x="222.50" y="207.60" font-size="10.3" text-anchor="middle" font-weight="normal" fill="#262626"  textLength="47.3" lengthAdjust="spacingAndGlyphs" style="">Snowmelt</text>
<text x="154.60" y="11.20" font-size="15" text-anchor="start" font-weight="bold" fill="#000"  style="">d</text>
<rect x="338.90" y="6.50" width="86.60" height="158.80" fill="white" />
<g clip-path="url(#clipe)">
<line x1="338.90" y1="134.70" x2="425.50" y2="134.70" stroke="#e9e9e9" stroke-width="0.9" />
<line x1="338.90" y1="96.30" x2="425.50" y2="96.30" stroke="#e9e9e9" stroke-width="0.9" />
<line x1="338.90" y1="57.90" x2="425.50" y2="57.90" stroke="#e9e9e9" stroke-width="0.9" />
<line x1="338.90" y1="19.50" x2="425.50" y2="19.50" stroke="#e9e9e9" stroke-width="0.9" />
<line x1="338.90" y1="153.90" x2="425.50" y2="153.90" stroke="#e6e6e6" stroke-width="1" />
<line x1="338.90" y1="115.50" x2="425.50" y2="115.50" stroke="#e6e6e6" stroke-width="1" />
<line x1="338.90" y1="77.10" x2="425.50" y2="77.10" stroke="#e6e6e6" stroke-width="1" />
<line x1="338.90" y1="38.70" x2="425.50" y2="38.70" stroke="#e6e6e6" stroke-width="1" />
<line x1="347.25" y1="6.50" x2="347.25" y2="165.30" stroke="#e6e6e6" stroke-width="1" />
<line x1="361.17" y1="6.50" x2="361.17" y2="165.30" stroke="#e6e6e6" stroke-width="1" />
<line x1="375.09" y1="6.50" x2="375.09" y2="165.30" stroke="#e6e6e6" stroke-width="1" />
<line x1="389.01" y1="6.50" x2="389.01" y2="165.30" stroke="#e6e6e6" stroke-width="1" />
<line x1="402.93" y1="6.50" x2="402.93" y2="165.30" stroke="#e6e6e6" stroke-width="1" />
<line x1="416.85" y1="6.50" x2="416.85" y2="165.30" stroke="#e6e6e6" stroke-width="1" />
<polygon points="347.25,126.00 361.17,111.00 375.09,107.30 389.01,131.70 402.93,131.70 416.85,120.20 416.85,144.20 402.93,145.70 389.01,145.70 375.09,131.30 361.17,135.00 347.25,144.00" fill="#9a9a9a" fill-opacity="0.13"/>
<polygon points="347.25,129.20 361.17,127.90 375.09,101.70 389.01,133.60 402.93,134.50 416.85,123.90 416.85,147.90 402.93,148.50 389.01,147.60 375.09,125.70 361.17,151.90 347.25,147.20" fill="#9a9a9a" fill-opacity="0.13"/>
<polygon points="347.25,128.80 361.17,127.60 375.09,120.20 389.01,136.30 402.93,137.30 416.85,128.20 416.85,152.20 402.93,151.30 389.01,150.30 375.09,144.20 361.17,151.60 347.25,146.80" fill="#9a9a9a" fill-opacity="0.13"/>
<polyline points="347.25,135.00 361.17,123.00 375.09,119.30 389.01,138.70 402.93,138.70 416.85,132.20" fill="none" stroke="#00E5EE" stroke-width="2.9" stroke-linejoin="round"/>
<polyline points="347.25,138.20 361.17,139.90 375.09,113.70 389.01,140.60 402.93,141.50 416.85,135.90" fill="none" stroke="#FF00FF" stroke-width="2.9" stroke-linejoin="round"/>
<polyline points="347.25,137.80 361.17,139.60 375.09,132.20 389.01,143.30 402.93,144.30 416.85,140.20" fill="none" stroke="#6A5ACD" stroke-width="2.9" stroke-linejoin="round"/>
<circle cx="346.72" cy="123.50" r="2.3" fill="#000" fill-opacity="0.2" stroke="#000" stroke-opacity="0.2" stroke-width="0.7"/>
<circle cx="347.40" cy="124.40" r="2.3" fill="#000" fill-opacity="0.2" stroke="#000" stroke-opacity="0.2" stroke-width="0.7"/>
<circle cx="347.21" cy="125.30" r="2.3" fill="#000" fill-opacity="0.2" stroke="#000" stroke-opacity="0.2" stroke-width="0.7"/>
<circle cx="347.47" cy="126.20" r="2.3" fill="#000" fill-opacity="0.2" stroke="#000" stroke-opacity="0.2" stroke-width="0.7"/>
<circle cx="347.07" cy="127.10" r="2.3" fill="#000" fill-opacity="0.2" stroke="#000" stroke-opacity="0.2" stroke-width="0.7"/>
<circle cx="347.50" cy="128.00" r="2.3" fill="#000" fill-opacity="0.2" stroke="#000" stroke-opacity="0.2" stroke-width="0.7"/>
<circle cx="347.54" cy="128.90" r="2.3" fill="#000" fill-opacity="0.2" stroke="#000" stroke-opacity="0.2" stroke-width="0.7"/>
<circle cx="346.68" cy="129.80" r="2.3" fill="#000" fill-opacity="0.2" stroke="#000" stroke-opacity="0.2" stroke-width="0.7"/>
<circle cx="346.72" cy="130.70" r="2.3" fill="#000" fill-opacity="0.2" stroke="#000" stroke-opacity="0.2" stroke-width="0.7"/>
<circle cx="347.46" cy="131.60" r="2.3" fill="#000" fill-opacity="0.2" stroke="#000" stroke-opacity="0.2" stroke-width="0.7"/>
<circle cx="347.81" cy="132.50" r="2.3" fill="#000" fill-opacity="0.2" stroke="#000" stroke-opacity="0.2" stroke-width="0.7"/>
<circle cx="346.95" cy="133.40" r="2.3" fill="#000" fill-opacity="0.2" stroke="#000" stroke-opacity="0.2" stroke-width="0.7"/>
<circle cx="347.20" cy="134.30" r="2.3" fill="#000" fill-opacity="0.2" stroke="#000" stroke-opacity="0.2" stroke-width="0.7"/>
<circle cx="347.36" cy="135.20" r="2.3" fill="#000" fill-opacity="0.2" stroke="#000" stroke-opacity="0.2" stroke-width="0.7"/>
<circle cx="347.03" cy="136.10" r="2.3" fill="#000" fill-opacity="0.2" stroke="#000" stroke-opacity="0.2" stroke-width="0.7"/>
<circle cx="347.09" cy="137.00" r="2.3" fill="#000" fill-opacity="0.2" stroke="#000" stroke-opacity="0.2" stroke-width="0.7"/>
<circle cx="347.03" cy="137.90" r="2.3" fill="#000" fill-opacity="0.2" stroke="#000" stroke-opacity="0.2" stroke-width="0.7"/>
<circle cx="347.09" cy="138.80" r="2.3" fill="#000" fill-opacity="0.2" stroke="#000" stroke-opacity="0.2" stroke-width="0.7"/>
<circle cx="347.36" cy="139.70" r="2.3" fill="#000" fill-opacity="0.2" stroke="#000" stroke-opacity="0.2" stroke-width="0.7"/>
<circle cx="347.01" cy="140.60" r="2.3" fill="#000" fill-opacity="0.2" stroke="#000" stroke-opacity="0.2" stroke-width="0.7"/>
<circle cx="347.10" cy="141.50" r="2.3" fill="#000" fill-opacity="0.2" stroke="#000" stroke-opacity="0.2" stroke-width="0.7"/>
<circle cx="347.58" cy="142.40" r="2.3" fill="#000" fill-opacity="0.2" stroke="#000" stroke-opacity="0.2" stroke-width="0.7"/>
<circle cx="346.68" cy="143.30" r="2.3" fill="#000" fill-opacity="0.2" stroke="#000" stroke-opacity="0.2" stroke-width="0.7"/>
<circle cx="347.33" cy="144.20" r="2.3" fill="#000" fill-opacity="0.2" stroke="#000" stroke-opacity="0.2" stroke-width="0.7"/>
<circle cx="347.53" cy="145.10" r="2.3" fill="#000" fill-opacity="0.2" stroke="#000" stroke-opacity="0.2" stroke-width="0.7"/>
<circle cx="347.02" cy="146.00" r="2.3" fill="#000" fill-opacity="0.2" stroke="#000" stroke-opacity="0.2" stroke-width="0.7"/>
<circle cx="346.92" cy="146.90" r="2.3" fill="#000" fill-opacity="0.2" stroke="#000" stroke-opacity="0.2" stroke-width="0.7"/>
<circle cx="361.53" cy="112.80" r="2.3" fill="#000" fill-opacity="0.2" stroke="#000" stroke-opacity="0.2" stroke-width="0.7"/>
<circle cx="360.86" cy="123.00" r="2.3" fill="#000" fill-opacity="0.2" stroke="#000" stroke-opacity="0.2" stroke-width="0.7"/>
<circle cx="360.79" cy="125.70" r="2.3" fill="#000" fill-opacity="0.2" stroke="#000" stroke-opacity="0.2" stroke-width="0.7"/>
<circle cx="361.09" cy="133.10" r="2.3" fill="#000" fill-opacity="0.2" stroke="#000" stroke-opacity="0.2" stroke-width="0.7"/>
<circle cx="361.41" cy="140.60" r="2.3" fill="#000" fill-opacity="0.2" stroke="#000" stroke-opacity="0.2" stroke-width="0.7"/>
<circle cx="360.69" cy="143.30" r="2.3" fill="#000" fill-opacity="0.2" stroke="#000" stroke-opacity="0.2" stroke-width="0.7"/>
<circle cx="360.96" cy="146.10" r="2.3" fill="#000" fill-opacity="0.2" stroke="#000" stroke-opacity="0.2" stroke-width="0.7"/>
<circle cx="360.97" cy="150.70" r="2.3" fill="#000" fill-opacity="0.2" stroke="#000" stroke-opacity="0.2" stroke-width="0.7"/>
<circle cx="375.49" cy="13.90" r="2.3" fill="#000" fill-opacity="0.2" stroke="#000" stroke-opacity="0.2" stroke-width="0.7"/>
<circle cx="375.02" cy="87.80" r="2.3" fill="#000" fill-opacity="0.2" stroke="#000" stroke-opacity="0.2" stroke-width="0.7"/>
<circle cx="375.52" cy="95.20" r="2.3" fill="#000" fill-opacity="0.2" stroke="#000" stroke-opacity="0.2" stroke-width="0.7"/>
<circle cx="374.69" cy="100.70" r="2.3" fill="#000" fill-opacity="0.2" stroke="#000" stroke-opacity="0.2" stroke-width="0.7"/>
<circle cx="374.89" cy="102.60" r="2.3" fill="#000" fill-opacity="0.2" stroke="#000" stroke-opacity="0.2" stroke-width="0.7"/>
<circle cx="375.27" cy="105.40" r="2.3" fill="#000" fill-opacity="0.2" stroke="#000" stroke-opacity="0.2" stroke-width="0.7"/>
<circle cx="375.55" cy="108.10" r="2.3" fill="#000" fill-opacity="0.2" stroke="#000" stroke-opacity="0.2" stroke-width="0.7"/>
<circle cx="375.03" cy="119.30" r="2.3" fill="#000" fill-opacity="0.2" stroke="#000" stroke-opacity="0.2" stroke-width="0.7"/>
<circle cx="374.76" cy="123.00" r="2.3" fill="#000" fill-opacity="0.2" stroke="#000" stroke-opacity="0.2" stroke-width="0.7"/>
<circle cx="374.64" cy="124.20" r="2.3" fill="#000" fill-opacity="0.2" stroke="#000" stroke-opacity="0.2" stroke-width="0.7"/>
<circle cx="375.13" cy="125.40" r="2.3" fill="#000" fill-opacity="0.2" stroke="#000" stroke-opacity="0.2" stroke-width="0.7"/>
<circle cx="374.72" cy="126.60" r="2.3" fill="#000" fill-opacity="0.2" stroke="#000" stroke-opacity="0.2" stroke-width="0.7"/>
<circle cx="375.46" cy="127.80" r="2.3" fill="#000" fill-opacity="0.2" stroke="#000" stroke-opacity="0.2" stroke-width="0.7"/>
<circle cx="375.50" cy="129.00" r="2.3" fill="#000" fill-opacity="0.2" stroke="#000" stroke-opacity="0.2" stroke-width="0.7"/>
<circle cx="374.71" cy="130.20" r="2.3" fill="#000" fill-opacity="0.2" stroke="#000" stroke-opacity="0.2" stroke-width="0.7"/>
<circle cx="374.82" cy="131.40" r="2.3" fill="#000" fill-opacity="0.2" stroke="#000" stroke-opacity="0.2" stroke-width="0.7"/>
<circle cx="375.46" cy="132.60" r="2.3" fill="#000" fill-opacity="0.2" stroke="#000" stroke-opacity="0.2" stroke-width="0.7"/>
<circle cx="375.26" cy="133.80" r="2.3" fill="#000" fill-opacity="0.2" stroke="#000" stroke-opacity="0.2" stroke-width="0.7"/>
<circle cx="375.46" cy="135.00" r="2.3" fill="#000" fill-opacity="0.2" stroke="#000" stroke-opacity="0.2" stroke-width="0.7"/>
<circle cx="374.90" cy="139.60" r="2.3" fill="#000" fill-opacity="0.2" stroke="#000" stroke-opacity="0.2" stroke-width="0.7"/>
<circle cx="374.65" cy="143.30" r="2.3" fill="#000" fill-opacity="0.2" stroke="#000" stroke-opacity="0.2" stroke-width="0.7"/>
<circle cx="374.84" cy="150.70" r="2.3" fill="#000" fill-opacity="0.2" stroke="#000" stroke-opacity="0.2" stroke-width="0.7"/>
<circle cx="389.36" cy="111.90" r="2.3" fill="#000" fill-opacity="0.2" stroke="#000" stroke-opacity="0.2" stroke-width="0.7"/>
<circle cx="388.74" cy="129.40" r="2.3" fill="#000" fill-opacity="0.2" stroke="#000" stroke-opacity="0.2" stroke-width="0.7"/>
<circle cx="388.83" cy="133.10" r="2.3" fill="#000" fill-opacity="0.2" stroke="#000" stroke-opacity="0.2" stroke-width="0.7"/>
<circle cx="388.91" cy="136.90" r="2.3" fill="#000" fill-opacity="0.2" stroke="#000" stroke-opacity="0.2" stroke-width="0.7"/>
<circle cx="388.91" cy="137.40" r="2.3" fill="#000" fill-opacity="0.2" stroke="#000" stroke-opacity="0.2" stroke-width="0.7"/>
<circle cx="388.90" cy="137.90" r="2.3" fill="#000" fill-opacity="0.2" stroke="#000" stroke-opacity="0.2" stroke-width="0.7"/>
<circle cx="389.51" cy="138.40" r="2.3" fill="#000" fill-opacity="0.2" stroke="#000" stroke-opacity="0.2" stroke-width="0.7"/>
<circle cx="388.60" cy="138.90" r="2.3" fill="#000" fill-opacity="0.2" stroke="#000" stroke-opacity="0.2" stroke-width="0.7"/>
<circle cx="388.42" cy="139.40" r="2.3" fill="#000" fill-opacity="0.2" stroke="#000" stroke-opacity="0.2" stroke-width="0.7"/>
<circle cx="389.54" cy="139.90" r="2.3" fill="#000" fill-opacity="0.2" stroke="#000" stroke-opacity="0.2" stroke-width="0.7"/>
<circle cx="389.47" cy="140.40" r="2.3" fill="#000" fill-opacity="0.2" stroke="#000" stroke-opacity="0.2" stroke-width="0.7"/>
<circle cx="389.59" cy="140.90" r="2.3" fill="#000" fill-opacity="0.2" stroke="#000" stroke-opacity="0.2" stroke-width="0.7"/>
<circle cx="388.93" cy="141.40" r="2.3" fill="#000" fill-opacity="0.2" stroke="#000" stroke-opacity="0.2" stroke-width="0.7"/>
<circle cx="389.55" cy="141.90" r="2.3" fill="#000" fill-opacity="0.2" stroke="#000" stroke-opacity="0.2" stroke-width="0.7"/>
<circle cx="389.52" cy="142.40" r="2.3" fill="#000" fill-opacity="0.2" stroke="#000" stroke-opacity="0.2" stroke-width="0.7"/>
<circle cx="388.68" cy="142.90" r="2.3" fill="#000" fill-opacity="0.2" stroke="#000" stroke-opacity="0.2" stroke-width="0.7"/>
<circle cx="389.30" cy="143.40" r="2.3" fill="#000" fill-opacity="0.2" stroke="#000" stroke-opacity="0.2" stroke-width="0.7"/>
<circle cx="389.41" cy="143.90" r="2.3" fill="#000" fill-opacity="0.2" stroke="#000" stroke-opacity="0.2" stroke-width="0.7"/>
<circle cx="389.21" cy="144.40" r="2.3" fill="#000" fill-opacity="0.2" stroke="#000" stroke-opacity="0.2" stroke-width="0.7"/>
<circle cx="389.03" cy="144.90" r="2.3" fill="#000" fill-opacity="0.2" stroke="#000" stroke-opacity="0.2" stroke-width="0.7"/>
<circle cx="388.76" cy="145.40" r="2.3" fill="#000" fill-opacity="0.2" stroke="#000" stroke-opacity="0.2" stroke-width="0.7"/>
<circle cx="388.82" cy="145.90" r="2.3" fill="#000" fill-opacity="0.2" stroke="#000" stroke-opacity="0.2" stroke-width="0.7"/>
<circle cx="388.68" cy="146.40" r="2.3" fill="#000" fill-opacity="0.2" stroke="#000" stroke-opacity="0.2" stroke-width="0.7"/>
<circle cx="388.49" cy="146.90" r="2.3" fill="#000" fill-opacity="0.2" stroke="#000" stroke-opacity="0.2" stroke-width="0.7"/>
<circle cx="389.12" cy="147.40" r="2.3" fill="#000" fill-opacity="0.2" stroke="#000" stroke-opacity="0.2" stroke-width="0.7"/>
<circle cx="388.75" cy="147.90" r="2.3" fill="#000" fill-opacity="0.2" stroke="#000" stroke-opacity="0.2" stroke-width="0.7"/>
<circle cx="389.38" cy="148.40" r="2.3" fill="#000" fill-opacity="0.2" stroke="#000" stroke-opacity="0.2" stroke-width="0.7"/>
<circle cx="388.46" cy="148.90" r="2.3" fill="#000" fill-opacity="0.2" stroke="#000" stroke-opacity="0.2" stroke-width="0.7"/>
<circle cx="389.49" cy="151.70" r="2.3" fill="#000" fill-opacity="0.2" stroke="#000" stroke-opacity="0.2" stroke-width="0.7"/>
<circle cx="403.16" cy="116.10" r="2.3" fill="#000" fill-opacity="0.2" stroke="#000" stroke-opacity="0.2" stroke-width="0.7"/>
<circle cx="403.44" cy="128.50" r="2.3" fill="#000" fill-opacity="0.2" stroke="#000" stroke-opacity="0.2" stroke-width="0.7"/>
<circle cx="403.41" cy="130.40" r="2.3" fill="#000" fill-opacity="0.2" stroke="#000" stroke-opacity="0.2" stroke-width="0.7"/>
<circle cx="403.41" cy="133.10" r="2.3" fill="#000" fill-opacity="0.2" stroke="#000" stroke-opacity="0.2" stroke-width="0.7"/>
<circle cx="403.02" cy="135.00" r="2.3" fill="#000" fill-opacity="0.2" stroke="#000" stroke-opacity="0.2" stroke-width="0.7"/>
<circle cx="402.35" cy="135.50" r="2.3" fill="#000" fill-opacity="0.2" stroke="#000" stroke-opacity="0.2" stroke-width="0.7"/>
<circle cx="403.22" cy="136.00" r="2.3" fill="#000" fill-opacity="0.2" stroke="#000" stroke-opacity="0.2" stroke-width="0.7"/>
<circle cx="402.54" cy="136.50" r="2.3" fill="#000" fill-opacity="0.2" stroke="#000" stroke-opacity="0.2" stroke-width="0.7"/>
<circle cx="402.69" cy="137.00" r="2.3" fill="#000" fill-opacity="0.2" stroke="#000" stroke-opacity="0.2" stroke-width="0.7"/>
<circle cx="403.13" cy="137.50" r="2.3" fill="#000" fill-opacity="0.2" stroke="#000" stroke-opacity="0.2" stroke-width="0.7"/>
<circle cx="402.96" cy="138.00" r="2.3" fill="#000" fill-opacity="0.2" stroke="#000" stroke-opacity="0.2" stroke-width="0.7"/>
<circle cx="402.83" cy="138.50" r="2.3" fill="#000" fill-opacity="0.2" stroke="#000" stroke-opacity="0.2" stroke-width="0.7"/>
<circle cx="403.46" cy="139.00" r="2.3" fill="#000" fill-opacity="0.2" stroke="#000" stroke-opacity="0.2" stroke-width="0.7"/>
<circle cx="403.06" cy="139.50" r="2.3" fill="#000" fill-opacity="0.2" stroke="#000" stroke-opacity="0.2" stroke-width="0.7"/>
<circle cx="402.74" cy="140.00" r="2.3" fill="#000" fill-opacity="0.2" stroke="#000" stroke-opacity="0.2" stroke-width="0.7"/>
<circle cx="402.63" cy="140.50" r="2.3" fill="#000" fill-opacity="0.2" stroke="#000" stroke-opacity="0.2" stroke-width="0.7"/>
<circle cx="403.36" cy="141.00" r="2.3" fill="#000" fill-opacity="0.2" stroke="#000" stroke-opacity="0.2" stroke-width="0.7"/>
<circle cx="402.90" cy="141.50" r="2.3" fill="#000" fill-opacity="0.2" stroke="#000" stroke-opacity="0.2" stroke-width="0.7"/>
<circle cx="403.27" cy="142.00" r="2.3" fill="#000" fill-opacity="0.2" stroke="#000" stroke-opacity="0.2" stroke-width="0.7"/>
<circle cx="402.75" cy="142.50" r="2.3" fill="#000" fill-opacity="0.2" stroke="#000" stroke-opacity="0.2" stroke-width="0.7"/>
<circle cx="402.57" cy="143.00" r="2.3" fill="#000" fill-opacity="0.2" stroke="#000" stroke-opacity="0.2" stroke-width="0.7"/>
<circle cx="402.97" cy="143.50" r="2.3" fill="#000" fill-opacity="0.2" stroke="#000" stroke-opacity="0.2" stroke-width="0.7"/>
<circle cx="403.31" cy="144.00" r="2.3" fill="#000" fill-opacity="0.2" stroke="#000" stroke-opacity="0.2" stroke-width="0.7"/>
<circle cx="402.54" cy="148.90" r="2.3" fill="#000" fill-opacity="0.2" stroke="#000" stroke-opacity="0.2" stroke-width="0.7"/>
<circle cx="417.20" cy="132.20" r="2.3" fill="#000" fill-opacity="0.2" stroke="#000" stroke-opacity="0.2" stroke-width="0.7"/>
<circle cx="417.36" cy="134.10" r="2.3" fill="#000" fill-opacity="0.2" stroke="#000" stroke-opacity="0.2" stroke-width="0.7"/>
<circle cx="417.22" cy="136.90" r="2.3" fill="#000" fill-opacity="0.2" stroke="#000" stroke-opacity="0.2" stroke-width="0.7"/>
<circle cx="417.24" cy="140.60" r="2.3" fill="#000" fill-opacity="0.2" stroke="#000" stroke-opacity="0.2" stroke-width="0.7"/>
<circle cx="416.26" cy="145.20" r="2.3" fill="#000" fill-opacity="0.2" stroke="#000" stroke-opacity="0.2" stroke-width="0.7"/>
</g>
<rect x="338.90" y="6.50" width="86.60" height="158.80" fill="none" stroke="#9a9a9a" stroke-width="1" />
<text x="381.75" y="18.10" font-size="10.1" text-anchor="middle" font-weight="normal" fill="#222"  textLength="77.1" lengthAdjust="spacingAndGlyphs" style="">Month <tspan font-style="italic">P</tspan> &lt; 0.001</text>
<text x="381.85" y="30.45" font-size="10.1" text-anchor="middle" font-weight="normal" fill="#222"  textLength="69.7" lengthAdjust="spacingAndGlyphs" style="">Depth <tspan font-style="italic">P</tspan> = 0.07</text>
<text x="381.80" y="42.80" font-size="10.1" text-anchor="middle" font-weight="normal" fill="#222"  textLength="66.8" lengthAdjust="spacingAndGlyphs" style="">M × D <tspan font-style="italic">P</tspan> = 0.29</text>
<text x="335.90" y="156.10" font-size="9.0" text-anchor="end" font-weight="normal" fill="#333333"  textLength="5.75" lengthAdjust="spacingAndGlyphs" style="">0</text>
<text x="335.90" y="117.70" font-size="9.0" text-anchor="end" font-weight="normal" fill="#333333"  textLength="11.5" lengthAdjust="spacingAndGlyphs" style="">30</text>
<text x="335.90" y="79.30" font-size="9.0" text-anchor="end" font-weight="normal" fill="#333333"  textLength="11.5" lengthAdjust="spacingAndGlyphs" style="">60</text>
<text x="335.90" y="40.90" font-size="9.0" text-anchor="end" font-weight="normal" fill="#333333"  textLength="11.5" lengthAdjust="spacingAndGlyphs" style="">90</text>
<text x="307.40" y="87.20" font-size="10.3" text-anchor="middle" fill="#262626" textLength="115.8" lengthAdjust="spacingAndGlyphs" transform="rotate(-90 307.40 87.20)">Total dissolved nitrogen</text>
<text x="319.40" y="86.40" font-size="10.3" text-anchor="middle" fill="#262626" textLength="62.8" lengthAdjust="spacingAndGlyphs" transform="rotate(-90 319.40 86.40)">(µg N g<tspan dy="-3.6" font-size="7.2">−1</tspan><tspan dy="3.6"> soil)</tspan></text>
<text x="351.25" y="175.00" font-size="9.1" text-anchor="end" fill="#333333" transform="rotate(-45 351.25 175.00)">Sept</text>
<text x="365.17" y="175.00" font-size="9.1" text-anchor="end" fill="#333333" transform="rotate(-45 365.17 175.00)">Mar</text>
<text x="379.09" y="175.00" font-size="9.1" text-anchor="end" fill="#333333" transform="rotate(-45 379.09 175.00)">May</text>
<text x="393.01" y="175.00" font-size="9.1" text-anchor="end" fill="#333333" transform="rotate(-45 393.01 175.00)">Jun</text>
<text x="406.93" y="175.00" font-size="9.1" text-anchor="end" fill="#333333" transform="rotate(-45 406.93 175.00)">July</text>
<text x="420.85" y="175.00" font-size="9.1" text-anchor="end" fill="#333333" transform="rotate(-45 420.85 175.00)">Sept</text>
<polyline points="351.00,189.90 351.00,193.20 372.30,193.20 372.30,189.90" fill="none" stroke="#777" stroke-width="0.9"/>
<line x1="361.65" y1="193.20" x2="361.65" y2="197.50" stroke="#777" stroke-width="0.9" />
<text x="361.10" y="207.50" font-size="10.3" text-anchor="middle" font-weight="normal" fill="#262626"  textLength="47.3" lengthAdjust="spacingAndGlyphs" style="">Snowmelt</text>
<text x="296.60" y="10.00" font-size="15" text-anchor="start" font-weight="bold" fill="#000"  style="">e</text>
<rect x="477.40" y="6.50" width="86.90" height="158.80" fill="white" />
<g clip-path="url(#clipf)">
<line x1="477.40" y1="140.80" x2="564.30" y2="140.80" stroke="#e9e9e9" stroke-width="0.9" />
<line x1="477.40" y1="112.40" x2="564.30" y2="112.40" stroke="#e9e9e9" stroke-width="0.9" />
<line x1="477.40" y1="84.00" x2="564.30" y2="84.00" stroke="#e9e9e9" stroke-width="0.9" />
<line x1="477.40" y1="55.60" x2="564.30" y2="55.60" stroke="#e9e9e9" stroke-width="0.9" />
<line x1="477.40" y1="27.20" x2="564.30" y2="27.20" stroke="#e9e9e9" stroke-width="0.9" />
<line x1="477.40" y1="155.00" x2="564.30" y2="155.00" stroke="#e6e6e6" stroke-width="1" />
<line x1="477.40" y1="126.60" x2="564.30" y2="126.60" stroke="#e6e6e6" stroke-width="1" />
<line x1="477.40" y1="98.20" x2="564.30" y2="98.20" stroke="#e6e6e6" stroke-width="1" />
<line x1="477.40" y1="69.80" x2="564.30" y2="69.80" stroke="#e6e6e6" stroke-width="1" />
<line x1="477.40" y1="41.40" x2="564.30" y2="41.40" stroke="#e6e6e6" stroke-width="1" />
<line x1="477.40" y1="13.00" x2="564.30" y2="13.00" stroke="#e6e6e6" stroke-width="1" />
<line x1="485.75" y1="6.50" x2="485.75" y2="165.30" stroke="#e6e6e6" stroke-width="1" />
<line x1="499.67" y1="6.50" x2="499.67" y2="165.30" stroke="#e6e6e6" stroke-width="1" />
<line x1="513.59" y1="6.50" x2="513.59" y2="165.30" stroke="#e6e6e6" stroke-width="1" />
<line x1="527.51" y1="6.50" x2="527.51" y2="165.30" stroke="#e6e6e6" stroke-width="1" />
<line x1="541.43" y1="6.50" x2="541.43" y2="165.30" stroke="#e6e6e6" stroke-width="1" />
<line x1="555.35" y1="6.50" x2="555.35" y2="165.30" stroke="#e6e6e6" stroke-width="1" />
<polygon points="485.75,113.40 499.67,76.80 513.59,73.60 527.51,134.80 541.43,134.80 555.35,107.40 555.35,139.40 541.43,150.80 527.51,150.80 513.59,101.60 499.67,108.80 485.75,141.40" fill="#9a9a9a" fill-opacity="0.13"/>
<polygon points="485.75,114.20 499.67,117.90 513.59,98.00 527.51,130.00 541.43,134.00 555.35,112.20 555.35,144.20 541.43,150.00 527.51,146.00 513.59,126.00 499.67,149.90 485.75,142.20" fill="#9a9a9a" fill-opacity="0.13"/>
<polygon points="485.75,114.20 499.67,117.10 513.59,98.00 527.51,138.90 541.43,138.90 555.35,116.30 555.35,148.30 541.43,154.90 527.51,154.90 513.59,126.00 499.67,149.10 485.75,142.20" fill="#9a9a9a" fill-opacity="0.13"/>
<polyline points="485.75,127.40 499.67,92.80 513.59,87.60 527.51,142.80 541.43,142.80 555.35,123.40" fill="none" stroke="#00E5EE" stroke-width="2.9" stroke-linejoin="round"/>
<polyline points="485.75,128.20 499.67,133.90 513.59,112.00 527.51,138.00 541.43,142.00 555.35,128.20" fill="none" stroke="#FF00FF" stroke-width="2.9" stroke-linejoin="round"/>
<polyline points="485.75,128.20 499.67,133.10 513.59,112.00 527.51,146.90 541.43,146.90 555.35,132.30" fill="none" stroke="#6A5ACD" stroke-width="2.9" stroke-linejoin="round"/>
<circle cx="485.90" cy="99.00" r="2.3" fill="#000" fill-opacity="0.2" stroke="#000" stroke-opacity="0.2" stroke-width="0.7"/>
<circle cx="486.19" cy="102.30" r="2.3" fill="#000" fill-opacity="0.2" stroke="#000" stroke-opacity="0.2" stroke-width="0.7"/>
<circle cx="485.21" cy="105.50" r="2.3" fill="#000" fill-opacity="0.2" stroke="#000" stroke-opacity="0.2" stroke-width="0.7"/>
<circle cx="485.48" cy="111.20" r="2.3" fill="#000" fill-opacity="0.2" stroke="#000" stroke-opacity="0.2" stroke-width="0.7"/>
<circle cx="485.47" cy="114.40" r="2.3" fill="#000" fill-opacity="0.2" stroke="#000" stroke-opacity="0.2" stroke-width="0.7"/>
<circle cx="485.78" cy="116.90" r="2.3" fill="#000" fill-opacity="0.2" stroke="#000" stroke-opacity="0.2" stroke-width="0.7"/>
<circle cx="485.66" cy="119.30" r="2.3" fill="#000" fill-opacity="0.2" stroke="#000" stroke-opacity="0.2" stroke-width="0.7"/>
<circle cx="485.72" cy="120.90" r="2.3" fill="#000" fill-opacity="0.2" stroke="#000" stroke-opacity="0.2" stroke-width="0.7"/>
<circle cx="486.08" cy="123.40" r="2.3" fill="#000" fill-opacity="0.2" stroke="#000" stroke-opacity="0.2" stroke-width="0.7"/>
<circle cx="485.15" cy="127.40" r="2.3" fill="#000" fill-opacity="0.2" stroke="#000" stroke-opacity="0.2" stroke-width="0.7"/>
<circle cx="485.22" cy="132.30" r="2.3" fill="#000" fill-opacity="0.2" stroke="#000" stroke-opacity="0.2" stroke-width="0.7"/>
<circle cx="485.30" cy="134.70" r="2.3" fill="#000" fill-opacity="0.2" stroke="#000" stroke-opacity="0.2" stroke-width="0.7"/>
<circle cx="485.30" cy="137.10" r="2.3" fill="#000" fill-opacity="0.2" stroke="#000" stroke-opacity="0.2" stroke-width="0.7"/>
<circle cx="485.23" cy="140.40" r="2.3" fill="#000" fill-opacity="0.2" stroke="#000" stroke-opacity="0.2" stroke-width="0.7"/>
<circle cx="486.32" cy="143.60" r="2.3" fill="#000" fill-opacity="0.2" stroke="#000" stroke-opacity="0.2" stroke-width="0.7"/>
<circle cx="486.18" cy="146.90" r="2.3" fill="#000" fill-opacity="0.2" stroke="#000" stroke-opacity="0.2" stroke-width="0.7"/>
<circle cx="485.25" cy="150.90" r="2.3" fill="#000" fill-opacity="0.2" stroke="#000" stroke-opacity="0.2" stroke-width="0.7"/>
<circle cx="499.67" cy="78.30" r="2.3" fill="#000" fill-opacity="0.2" stroke="#000" stroke-opacity="0.2" stroke-width="0.7"/>
<circle cx="499.45" cy="81.10" r="2.3" fill="#000" fill-opacity="0.2" stroke="#000" stroke-opacity="0.2" stroke-width="0.7"/>
<circle cx="499.45" cy="101.50" r="2.3" fill="#000" fill-opacity="0.2" stroke="#000" stroke-opacity="0.2" stroke-width="0.7"/>
<circle cx="499.49" cy="125.80" r="2.3" fill="#000" fill-opacity="0.2" stroke="#000" stroke-opacity="0.2" stroke-width="0.7"/>
<circle cx="499.85" cy="145.20" r="2.3" fill="#000" fill-opacity="0.2" stroke="#000" stroke-opacity="0.2" stroke-width="0.7"/>
<circle cx="499.77" cy="147.70" r="2.3" fill="#000" fill-opacity="0.2" stroke="#000" stroke-opacity="0.2" stroke-width="0.7"/>
<circle cx="499.50" cy="155.00" r="2.3" fill="#000" fill-opacity="0.2" stroke="#000" stroke-opacity="0.2" stroke-width="0.7"/>
<circle cx="513.22" cy="37.10" r="2.3" fill="#000" fill-opacity="0.2" stroke="#000" stroke-opacity="0.2" stroke-width="0.7"/>
<circle cx="513.38" cy="46.50" r="2.3" fill="#000" fill-opacity="0.2" stroke="#000" stroke-opacity="0.2" stroke-width="0.7"/>
<circle cx="513.14" cy="61.30" r="2.3" fill="#000" fill-opacity="0.2" stroke="#000" stroke-opacity="0.2" stroke-width="0.7"/>
<circle cx="513.66" cy="67.20" r="2.3" fill="#000" fill-opacity="0.2" stroke="#000" stroke-opacity="0.2" stroke-width="0.7"/>
<circle cx="513.85" cy="80.20" r="2.3" fill="#000" fill-opacity="0.2" stroke="#000" stroke-opacity="0.2" stroke-width="0.7"/>
<circle cx="513.45" cy="81.70" r="2.3" fill="#000" fill-opacity="0.2" stroke="#000" stroke-opacity="0.2" stroke-width="0.7"/>
<circle cx="513.09" cy="93.10" r="2.3" fill="#000" fill-opacity="0.2" stroke="#000" stroke-opacity="0.2" stroke-width="0.7"/>
<circle cx="513.20" cy="101.50" r="2.3" fill="#000" fill-opacity="0.2" stroke="#000" stroke-opacity="0.2" stroke-width="0.7"/>
<circle cx="513.44" cy="103.90" r="2.3" fill="#000" fill-opacity="0.2" stroke="#000" stroke-opacity="0.2" stroke-width="0.7"/>
<circle cx="513.72" cy="108.80" r="2.3" fill="#000" fill-opacity="0.2" stroke="#000" stroke-opacity="0.2" stroke-width="0.7"/>
<circle cx="513.93" cy="111.20" r="2.3" fill="#000" fill-opacity="0.2" stroke="#000" stroke-opacity="0.2" stroke-width="0.7"/>
<circle cx="513.45" cy="116.10" r="2.3" fill="#000" fill-opacity="0.2" stroke="#000" stroke-opacity="0.2" stroke-width="0.7"/>
<circle cx="513.95" cy="119.30" r="2.3" fill="#000" fill-opacity="0.2" stroke="#000" stroke-opacity="0.2" stroke-width="0.7"/>
<circle cx="513.74" cy="121.70" r="2.3" fill="#000" fill-opacity="0.2" stroke="#000" stroke-opacity="0.2" stroke-width="0.7"/>
<circle cx="513.51" cy="124.20" r="2.3" fill="#000" fill-opacity="0.2" stroke="#000" stroke-opacity="0.2" stroke-width="0.7"/>
<circle cx="513.44" cy="132.30" r="2.3" fill="#000" fill-opacity="0.2" stroke="#000" stroke-opacity="0.2" stroke-width="0.7"/>
<circle cx="513.59" cy="150.40" r="2.3" fill="#000" fill-opacity="0.2" stroke="#000" stroke-opacity="0.2" stroke-width="0.7"/>
<circle cx="527.75" cy="84.80" r="2.3" fill="#000" fill-opacity="0.2" stroke="#000" stroke-opacity="0.2" stroke-width="0.7"/>
<circle cx="527.41" cy="125.00" r="2.3" fill="#000" fill-opacity="0.2" stroke="#000" stroke-opacity="0.2" stroke-width="0.7"/>
<circle cx="527.74" cy="134.70" r="2.3" fill="#000" fill-opacity="0.2" stroke="#000" stroke-opacity="0.2" stroke-width="0.7"/>
<circle cx="527.46" cy="140.40" r="2.3" fill="#000" fill-opacity="0.2" stroke="#000" stroke-opacity="0.2" stroke-width="0.7"/>
<circle cx="527.20" cy="141.30" r="2.3" fill="#000" fill-opacity="0.2" stroke="#000" stroke-opacity="0.2" stroke-width="0.7"/>
<circle cx="527.55" cy="142.20" r="2.3" fill="#000" fill-opacity="0.2" stroke="#000" stroke-opacity="0.2" stroke-width="0.7"/>
<circle cx="527.74" cy="143.10" r="2.3" fill="#000" fill-opacity="0.2" stroke="#000" stroke-opacity="0.2" stroke-width="0.7"/>
<circle cx="527.00" cy="144.00" r="2.3" fill="#000" fill-opacity="0.2" stroke="#000" stroke-opacity="0.2" stroke-width="0.7"/>
<circle cx="527.42" cy="144.90" r="2.3" fill="#000" fill-opacity="0.2" stroke="#000" stroke-opacity="0.2" stroke-width="0.7"/>
<circle cx="527.42" cy="145.80" r="2.3" fill="#000" fill-opacity="0.2" stroke="#000" stroke-opacity="0.2" stroke-width="0.7"/>
<circle cx="527.97" cy="146.70" r="2.3" fill="#000" fill-opacity="0.2" stroke="#000" stroke-opacity="0.2" stroke-width="0.7"/>
<circle cx="528.03" cy="147.60" r="2.3" fill="#000" fill-opacity="0.2" stroke="#000" stroke-opacity="0.2" stroke-width="0.7"/>
<circle cx="527.36" cy="148.50" r="2.3" fill="#000" fill-opacity="0.2" stroke="#000" stroke-opacity="0.2" stroke-width="0.7"/>
<circle cx="527.99" cy="149.40" r="2.3" fill="#000" fill-opacity="0.2" stroke="#000" stroke-opacity="0.2" stroke-width="0.7"/>
<circle cx="527.86" cy="150.30" r="2.3" fill="#000" fill-opacity="0.2" stroke="#000" stroke-opacity="0.2" stroke-width="0.7"/>
<circle cx="527.22" cy="151.20" r="2.3" fill="#000" fill-opacity="0.2" stroke="#000" stroke-opacity="0.2" stroke-width="0.7"/>
<circle cx="527.47" cy="152.10" r="2.3" fill="#000" fill-opacity="0.2" stroke="#000" stroke-opacity="0.2" stroke-width="0.7"/>
<circle cx="540.98" cy="116.10" r="2.3" fill="#000" fill-opacity="0.2" stroke="#000" stroke-opacity="0.2" stroke-width="0.7"/>
<circle cx="541.81" cy="133.90" r="2.3" fill="#000" fill-opacity="0.2" stroke="#000" stroke-opacity="0.2" stroke-width="0.7"/>
<circle cx="541.62" cy="136.30" r="2.3" fill="#000" fill-opacity="0.2" stroke="#000" stroke-opacity="0.2" stroke-width="0.7"/>
<circle cx="541.89" cy="138.80" r="2.3" fill="#000" fill-opacity="0.2" stroke="#000" stroke-opacity="0.2" stroke-width="0.7"/>
<circle cx="541.78" cy="139.70" r="2.3" fill="#000" fill-opacity="0.2" stroke="#000" stroke-opacity="0.2" stroke-width="0.7"/>
<circle cx="541.63" cy="140.60" r="2.3" fill="#000" fill-opacity="0.2" stroke="#000" stroke-opacity="0.2" stroke-width="0.7"/>
<circle cx="541.71" cy="141.50" r="2.3" fill="#000" fill-opacity="0.2" stroke="#000" stroke-opacity="0.2" stroke-width="0.7"/>
<circle cx="541.51" cy="142.40" r="2.3" fill="#000" fill-opacity="0.2" stroke="#000" stroke-opacity="0.2" stroke-width="0.7"/>
<circle cx="540.95" cy="143.30" r="2.3" fill="#000" fill-opacity="0.2" stroke="#000" stroke-opacity="0.2" stroke-width="0.7"/>
<circle cx="541.54" cy="144.20" r="2.3" fill="#000" fill-opacity="0.2" stroke="#000" stroke-opacity="0.2" stroke-width="0.7"/>
<circle cx="540.84" cy="145.10" r="2.3" fill="#000" fill-opacity="0.2" stroke="#000" stroke-opacity="0.2" stroke-width="0.7"/>
<circle cx="541.00" cy="146.00" r="2.3" fill="#000" fill-opacity="0.2" stroke="#000" stroke-opacity="0.2" stroke-width="0.7"/>
<circle cx="541.76" cy="146.90" r="2.3" fill="#000" fill-opacity="0.2" stroke="#000" stroke-opacity="0.2" stroke-width="0.7"/>
<circle cx="540.88" cy="147.80" r="2.3" fill="#000" fill-opacity="0.2" stroke="#000" stroke-opacity="0.2" stroke-width="0.7"/>
<circle cx="540.94" cy="154.20" r="2.3" fill="#000" fill-opacity="0.2" stroke="#000" stroke-opacity="0.2" stroke-width="0.7"/>
<circle cx="554.87" cy="115.30" r="2.3" fill="#000" fill-opacity="0.2" stroke="#000" stroke-opacity="0.2" stroke-width="0.7"/>
<circle cx="555.81" cy="121.70" r="2.3" fill="#000" fill-opacity="0.2" stroke="#000" stroke-opacity="0.2" stroke-width="0.7"/>
<circle cx="554.96" cy="124.20" r="2.3" fill="#000" fill-opacity="0.2" stroke="#000" stroke-opacity="0.2" stroke-width="0.7"/>
<circle cx="554.78" cy="132.30" r="2.3" fill="#000" fill-opacity="0.2" stroke="#000" stroke-opacity="0.2" stroke-width="0.7"/>
<circle cx="555.76" cy="138.80" r="2.3" fill="#000" fill-opacity="0.2" stroke="#000" stroke-opacity="0.2" stroke-width="0.7"/>
<circle cx="554.90" cy="142.00" r="2.3" fill="#000" fill-opacity="0.2" stroke="#000" stroke-opacity="0.2" stroke-width="0.7"/>
</g>
<rect x="477.40" y="6.50" width="86.90" height="158.80" fill="none" stroke="#9a9a9a" stroke-width="1" />
<text x="520.30" y="16.00" font-size="10.1" text-anchor="middle" font-weight="normal" fill="#222"  textLength="77.0" lengthAdjust="spacingAndGlyphs" style="">Month <tspan font-style="italic">P</tspan> &lt; 0.001</text>
<text x="520.90" y="28.35" font-size="10.1" text-anchor="middle" font-weight="normal" fill="#222"  textLength="69.39999999999999" lengthAdjust="spacingAndGlyphs" style="">Depth <tspan font-style="italic">P</tspan> = 0.32</text>
<text x="520.35" y="40.70" font-size="10.1" text-anchor="middle" font-weight="normal" fill="#222"  textLength="67.5" lengthAdjust="spacingAndGlyphs" style="">M × D <tspan font-style="italic">P</tspan> = 0.66</text>
<text x="474.40" y="157.20" font-size="9.0" text-anchor="end" font-weight="normal" fill="#333333"  textLength="5.75" lengthAdjust="spacingAndGlyphs" style="">0</text>
<text x="474.40" y="128.80" font-size="9.0" text-anchor="end" font-weight="normal" fill="#333333"  textLength="9.95" lengthAdjust="spacingAndGlyphs" style="">10</text>
<text x="474.40" y="100.40" font-size="9.0" text-anchor="end" font-weight="normal" fill="#333333"  textLength="11.5" lengthAdjust="spacingAndGlyphs" style="">20</text>
<text x="474.40" y="72.00" font-size="9.0" text-anchor="end" font-weight="normal" fill="#333333"  textLength="11.5" lengthAdjust="spacingAndGlyphs" style="">30</text>
<text x="474.40" y="43.60" font-size="9.0" text-anchor="end" font-weight="normal" fill="#333333"  textLength="11.5" lengthAdjust="spacingAndGlyphs" style="">40</text>
<text x="474.40" y="15.20" font-size="9.0" text-anchor="end" font-weight="normal" fill="#333333"  textLength="11.5" lengthAdjust="spacingAndGlyphs" style="">50</text>
<text x="445.60" y="87.30" font-size="10.3" text-anchor="middle" fill="#262626" textLength="127.6" lengthAdjust="spacingAndGlyphs" transform="rotate(-90 445.60 87.30)">Dissolved organic nitrogen</text>
<text x="456.80" y="87.25" font-size="10.3" text-anchor="middle" fill="#262626" textLength="63.8" lengthAdjust="spacingAndGlyphs" transform="rotate(-90 456.80 87.25)">(µg N g<tspan dy="-3.6" font-size="7.2">−1</tspan><tspan dy="3.6"> soil)</tspan></text>
<text x="489.75" y="175.00" font-size="9.1" text-anchor="end" fill="#333333" transform="rotate(-45 489.75 175.00)">Sept</text>
<text x="503.67" y="175.00" font-size="9.1" text-anchor="end" fill="#333333" transform="rotate(-45 503.67 175.00)">Mar</text>
<text x="517.59" y="175.00" font-size="9.1" text-anchor="end" fill="#333333" transform="rotate(-45 517.59 175.00)">May</text>
<text x="531.51" y="175.00" font-size="9.1" text-anchor="end" fill="#333333" transform="rotate(-45 531.51 175.00)">Jun</text>
<text x="545.43" y="175.00" font-size="9.1" text-anchor="end" fill="#333333" transform="rotate(-45 545.43 175.00)">July</text>
<text x="559.35" y="175.00" font-size="9.1" text-anchor="end" fill="#333333" transform="rotate(-45 559.35 175.00)">Sept</text>
<polyline points="489.50,189.90 489.50,193.20 510.80,193.20 510.80,189.90" fill="none" stroke="#777" stroke-width="0.9"/>
<line x1="500.15" y1="193.20" x2="500.15" y2="197.50" stroke="#777" stroke-width="0.9" />
<text x="499.60" y="207.50" font-size="10.3" text-anchor="middle" font-weight="normal" fill="#262626"  textLength="47.3" lengthAdjust="spacingAndGlyphs" style="">Snowmelt</text>
<text x="435.80" y="13.60" font-size="15" text-anchor="start" font-weight="bold" fill="#000"  style="">f</text>
<rect x="199.90" y="233.80" width="86.60" height="158.50" fill="white" />
<g clip-path="url(#clipg)">
<line x1="199.90" y1="388.55" x2="286.50" y2="388.55" stroke="#e9e9e9" stroke-width="0.9" />
<line x1="199.90" y1="356.45" x2="286.50" y2="356.45" stroke="#e9e9e9" stroke-width="0.9" />
<line x1="199.90" y1="324.35" x2="286.50" y2="324.35" stroke="#e9e9e9" stroke-width="0.9" />
<line x1="199.90" y1="292.25" x2="286.50" y2="292.25" stroke="#e9e9e9" stroke-width="0.9" />
<line x1="199.90" y1="260.15" x2="286.50" y2="260.15" stroke="#e9e9e9" stroke-width="0.9" />
<line x1="199.90" y1="372.50" x2="286.50" y2="372.50" stroke="#e6e6e6" stroke-width="1" />
<line x1="199.90" y1="340.40" x2="286.50" y2="340.40" stroke="#e6e6e6" stroke-width="1" />
<line x1="199.90" y1="308.30" x2="286.50" y2="308.30" stroke="#e6e6e6" stroke-width="1" />
<line x1="199.90" y1="276.20" x2="286.50" y2="276.20" stroke="#e6e6e6" stroke-width="1" />
<line x1="199.90" y1="244.10" x2="286.50" y2="244.10" stroke="#e6e6e6" stroke-width="1" />
<line x1="208.25" y1="233.80" x2="208.25" y2="392.30" stroke="#e6e6e6" stroke-width="1" />
<line x1="222.17" y1="233.80" x2="222.17" y2="392.30" stroke="#e6e6e6" stroke-width="1" />
<line x1="236.09" y1="233.80" x2="236.09" y2="392.30" stroke="#e6e6e6" stroke-width="1" />
<line x1="250.01" y1="233.80" x2="250.01" y2="392.30" stroke="#e6e6e6" stroke-width="1" />
<line x1="263.93" y1="233.80" x2="263.93" y2="392.30" stroke="#e6e6e6" stroke-width="1" />
<line x1="277.85" y1="233.80" x2="277.85" y2="392.30" stroke="#e6e6e6" stroke-width="1" />
<polygon points="208.25,347.80 222.17,349.50 236.09,338.60 250.01,344.60 263.93,328.80 263.93,356.80 250.01,368.60 236.09,366.60 222.17,381.50 208.25,371.80" fill="#9a9a9a" fill-opacity="0.13"/>
<polygon points="208.25,351.90 222.17,352.00 236.09,332.00 250.01,350.30 263.93,347.50 263.93,375.50 250.01,374.30 236.09,360.00 222.17,384.00 208.25,375.90" fill="#9a9a9a" fill-opacity="0.13"/>
<polygon points="208.25,349.50 222.17,339.00 236.09,349.10 250.01,345.40 263.93,345.00 263.93,373.00 250.01,369.40 236.09,377.10 222.17,371.00 208.25,373.50" fill="#9a9a9a" fill-opacity="0.13"/>
<polyline points="208.25,359.80 222.17,365.50 236.09,352.60 250.01,356.60 263.93,342.80" fill="none" stroke="#00E5EE" stroke-width="2.9" stroke-linejoin="round"/>
<polyline points="208.25,363.90 222.17,368.00 236.09,346.00 250.01,362.30 263.93,361.50" fill="none" stroke="#FF00FF" stroke-width="2.9" stroke-linejoin="round"/>
<polyline points="208.25,361.50 222.17,355.00 236.09,363.10 250.01,357.40 263.93,359.00" fill="none" stroke="#6A5ACD" stroke-width="2.9" stroke-linejoin="round"/>
<circle cx="208.66" cy="338.10" r="2.3" fill="#000" fill-opacity="0.2" stroke="#000" stroke-opacity="0.2" stroke-width="0.7"/>
<circle cx="208.46" cy="349.60" r="2.3" fill="#000" fill-opacity="0.2" stroke="#000" stroke-opacity="0.2" stroke-width="0.7"/>
<circle cx="208.65" cy="357.40" r="2.3" fill="#000" fill-opacity="0.2" stroke="#000" stroke-opacity="0.2" stroke-width="0.7"/>
<circle cx="208.79" cy="358.00" r="2.3" fill="#000" fill-opacity="0.2" stroke="#000" stroke-opacity="0.2" stroke-width="0.7"/>
<circle cx="208.34" cy="358.60" r="2.3" fill="#000" fill-opacity="0.2" stroke="#000" stroke-opacity="0.2" stroke-width="0.7"/>
<circle cx="208.61" cy="359.20" r="2.3" fill="#000" fill-opacity="0.2" stroke="#000" stroke-opacity="0.2" stroke-width="0.7"/>
<circle cx="207.69" cy="359.80" r="2.3" fill="#000" fill-opacity="0.2" stroke="#000" stroke-opacity="0.2" stroke-width="0.7"/>
<circle cx="208.57" cy="360.40" r="2.3" fill="#000" fill-opacity="0.2" stroke="#000" stroke-opacity="0.2" stroke-width="0.7"/>
<circle cx="208.26" cy="361.00" r="2.3" fill="#000" fill-opacity="0.2" stroke="#000" stroke-opacity="0.2" stroke-width="0.7"/>
<circle cx="208.51" cy="361.60" r="2.3" fill="#000" fill-opacity="0.2" stroke="#000" stroke-opacity="0.2" stroke-width="0.7"/>
<circle cx="207.78" cy="362.20" r="2.3" fill="#000" fill-opacity="0.2" stroke="#000" stroke-opacity="0.2" stroke-width="0.7"/>
<circle cx="208.55" cy="362.80" r="2.3" fill="#000" fill-opacity="0.2" stroke="#000" stroke-opacity="0.2" stroke-width="0.7"/>
<circle cx="208.77" cy="363.40" r="2.3" fill="#000" fill-opacity="0.2" stroke="#000" stroke-opacity="0.2" stroke-width="0.7"/>
<circle cx="207.72" cy="364.00" r="2.3" fill="#000" fill-opacity="0.2" stroke="#000" stroke-opacity="0.2" stroke-width="0.7"/>
<circle cx="208.04" cy="364.60" r="2.3" fill="#000" fill-opacity="0.2" stroke="#000" stroke-opacity="0.2" stroke-width="0.7"/>
<circle cx="208.33" cy="365.20" r="2.3" fill="#000" fill-opacity="0.2" stroke="#000" stroke-opacity="0.2" stroke-width="0.7"/>
<circle cx="208.64" cy="365.80" r="2.3" fill="#000" fill-opacity="0.2" stroke="#000" stroke-opacity="0.2" stroke-width="0.7"/>
<circle cx="207.94" cy="366.40" r="2.3" fill="#000" fill-opacity="0.2" stroke="#000" stroke-opacity="0.2" stroke-width="0.7"/>
<circle cx="207.87" cy="367.00" r="2.3" fill="#000" fill-opacity="0.2" stroke="#000" stroke-opacity="0.2" stroke-width="0.7"/>
<circle cx="207.95" cy="367.60" r="2.3" fill="#000" fill-opacity="0.2" stroke="#000" stroke-opacity="0.2" stroke-width="0.7"/>
<circle cx="208.39" cy="368.20" r="2.3" fill="#000" fill-opacity="0.2" stroke="#000" stroke-opacity="0.2" stroke-width="0.7"/>
<circle cx="222.47" cy="342.30" r="2.3" fill="#000" fill-opacity="0.2" stroke="#000" stroke-opacity="0.2" stroke-width="0.7"/>
<circle cx="222.04" cy="353.20" r="2.3" fill="#000" fill-opacity="0.2" stroke="#000" stroke-opacity="0.2" stroke-width="0.7"/>
<circle cx="222.01" cy="354.80" r="2.3" fill="#000" fill-opacity="0.2" stroke="#000" stroke-opacity="0.2" stroke-width="0.7"/>
<circle cx="222.05" cy="366.30" r="2.3" fill="#000" fill-opacity="0.2" stroke="#000" stroke-opacity="0.2" stroke-width="0.7"/>
<circle cx="221.99" cy="367.00" r="2.3" fill="#000" fill-opacity="0.2" stroke="#000" stroke-opacity="0.2" stroke-width="0.7"/>
<circle cx="222.07" cy="367.70" r="2.3" fill="#000" fill-opacity="0.2" stroke="#000" stroke-opacity="0.2" stroke-width="0.7"/>
<circle cx="221.67" cy="368.40" r="2.3" fill="#000" fill-opacity="0.2" stroke="#000" stroke-opacity="0.2" stroke-width="0.7"/>
<circle cx="222.17" cy="369.10" r="2.3" fill="#000" fill-opacity="0.2" stroke="#000" stroke-opacity="0.2" stroke-width="0.7"/>
<circle cx="222.74" cy="369.80" r="2.3" fill="#000" fill-opacity="0.2" stroke="#000" stroke-opacity="0.2" stroke-width="0.7"/>
<circle cx="222.07" cy="370.50" r="2.3" fill="#000" fill-opacity="0.2" stroke="#000" stroke-opacity="0.2" stroke-width="0.7"/>
<circle cx="222.47" cy="371.20" r="2.3" fill="#000" fill-opacity="0.2" stroke="#000" stroke-opacity="0.2" stroke-width="0.7"/>
<circle cx="235.68" cy="310.80" r="2.3" fill="#000" fill-opacity="0.2" stroke="#000" stroke-opacity="0.2" stroke-width="0.7"/>
<circle cx="236.32" cy="317.00" r="2.3" fill="#000" fill-opacity="0.2" stroke="#000" stroke-opacity="0.2" stroke-width="0.7"/>
<circle cx="236.40" cy="321.50" r="2.3" fill="#000" fill-opacity="0.2" stroke="#000" stroke-opacity="0.2" stroke-width="0.7"/>
<circle cx="236.30" cy="322.70" r="2.3" fill="#000" fill-opacity="0.2" stroke="#000" stroke-opacity="0.2" stroke-width="0.7"/>
<circle cx="236.11" cy="343.90" r="2.3" fill="#000" fill-opacity="0.2" stroke="#000" stroke-opacity="0.2" stroke-width="0.7"/>
<circle cx="236.07" cy="353.80" r="2.3" fill="#000" fill-opacity="0.2" stroke="#000" stroke-opacity="0.2" stroke-width="0.7"/>
<circle cx="236.26" cy="356.40" r="2.3" fill="#000" fill-opacity="0.2" stroke="#000" stroke-opacity="0.2" stroke-width="0.7"/>
<circle cx="236.57" cy="359.00" r="2.3" fill="#000" fill-opacity="0.2" stroke="#000" stroke-opacity="0.2" stroke-width="0.7"/>
<circle cx="235.67" cy="360.30" r="2.3" fill="#000" fill-opacity="0.2" stroke="#000" stroke-opacity="0.2" stroke-width="0.7"/>
<circle cx="235.61" cy="361.60" r="2.3" fill="#000" fill-opacity="0.2" stroke="#000" stroke-opacity="0.2" stroke-width="0.7"/>
<circle cx="236.39" cy="362.90" r="2.3" fill="#000" fill-opacity="0.2" stroke="#000" stroke-opacity="0.2" stroke-width="0.7"/>
<circle cx="236.59" cy="364.20" r="2.3" fill="#000" fill-opacity="0.2" stroke="#000" stroke-opacity="0.2" stroke-width="0.7"/>
<circle cx="236.11" cy="365.50" r="2.3" fill="#000" fill-opacity="0.2" stroke="#000" stroke-opacity="0.2" stroke-width="0.7"/>
<circle cx="236.02" cy="368.30" r="2.3" fill="#000" fill-opacity="0.2" stroke="#000" stroke-opacity="0.2" stroke-width="0.7"/>
<circle cx="236.35" cy="371.50" r="2.3" fill="#000" fill-opacity="0.2" stroke="#000" stroke-opacity="0.2" stroke-width="0.7"/>
<circle cx="235.71" cy="373.00" r="2.3" fill="#000" fill-opacity="0.2" stroke="#000" stroke-opacity="0.2" stroke-width="0.7"/>
<circle cx="249.73" cy="276.20" r="2.3" fill="#000" fill-opacity="0.2" stroke="#000" stroke-opacity="0.2" stroke-width="0.7"/>
<circle cx="249.65" cy="327.40" r="2.3" fill="#000" fill-opacity="0.2" stroke="#000" stroke-opacity="0.2" stroke-width="0.7"/>
<circle cx="250.11" cy="344.40" r="2.3" fill="#000" fill-opacity="0.2" stroke="#000" stroke-opacity="0.2" stroke-width="0.7"/>
<circle cx="249.79" cy="348.50" r="2.3" fill="#000" fill-opacity="0.2" stroke="#000" stroke-opacity="0.2" stroke-width="0.7"/>
<circle cx="249.69" cy="351.10" r="2.3" fill="#000" fill-opacity="0.2" stroke="#000" stroke-opacity="0.2" stroke-width="0.7"/>
<circle cx="250.24" cy="355.80" r="2.3" fill="#000" fill-opacity="0.2" stroke="#000" stroke-opacity="0.2" stroke-width="0.7"/>
<circle cx="250.55" cy="356.70" r="2.3" fill="#000" fill-opacity="0.2" stroke="#000" stroke-opacity="0.2" stroke-width="0.7"/>
<circle cx="249.77" cy="357.60" r="2.3" fill="#000" fill-opacity="0.2" stroke="#000" stroke-opacity="0.2" stroke-width="0.7"/>
<circle cx="250.26" cy="358.50" r="2.3" fill="#000" fill-opacity="0.2" stroke="#000" stroke-opacity="0.2" stroke-width="0.7"/>
<circle cx="249.91" cy="359.40" r="2.3" fill="#000" fill-opacity="0.2" stroke="#000" stroke-opacity="0.2" stroke-width="0.7"/>
<circle cx="250.43" cy="360.30" r="2.3" fill="#000" fill-opacity="0.2" stroke="#000" stroke-opacity="0.2" stroke-width="0.7"/>
<circle cx="250.11" cy="361.20" r="2.3" fill="#000" fill-opacity="0.2" stroke="#000" stroke-opacity="0.2" stroke-width="0.7"/>
<circle cx="249.73" cy="362.10" r="2.3" fill="#000" fill-opacity="0.2" stroke="#000" stroke-opacity="0.2" stroke-width="0.7"/>
<circle cx="249.67" cy="363.00" r="2.3" fill="#000" fill-opacity="0.2" stroke="#000" stroke-opacity="0.2" stroke-width="0.7"/>
<circle cx="249.44" cy="363.90" r="2.3" fill="#000" fill-opacity="0.2" stroke="#000" stroke-opacity="0.2" stroke-width="0.7"/>
<circle cx="249.99" cy="364.80" r="2.3" fill="#000" fill-opacity="0.2" stroke="#000" stroke-opacity="0.2" stroke-width="0.7"/>
<circle cx="249.87" cy="365.70" r="2.3" fill="#000" fill-opacity="0.2" stroke="#000" stroke-opacity="0.2" stroke-width="0.7"/>
<circle cx="249.62" cy="366.60" r="2.3" fill="#000" fill-opacity="0.2" stroke="#000" stroke-opacity="0.2" stroke-width="0.7"/>
<circle cx="249.84" cy="367.50" r="2.3" fill="#000" fill-opacity="0.2" stroke="#000" stroke-opacity="0.2" stroke-width="0.7"/>
<circle cx="249.80" cy="368.40" r="2.3" fill="#000" fill-opacity="0.2" stroke="#000" stroke-opacity="0.2" stroke-width="0.7"/>
<circle cx="250.34" cy="369.30" r="2.3" fill="#000" fill-opacity="0.2" stroke="#000" stroke-opacity="0.2" stroke-width="0.7"/>
<circle cx="249.58" cy="370.20" r="2.3" fill="#000" fill-opacity="0.2" stroke="#000" stroke-opacity="0.2" stroke-width="0.7"/>
<circle cx="264.52" cy="342.30" r="2.3" fill="#000" fill-opacity="0.2" stroke="#000" stroke-opacity="0.2" stroke-width="0.7"/>
<circle cx="263.91" cy="350.60" r="2.3" fill="#000" fill-opacity="0.2" stroke="#000" stroke-opacity="0.2" stroke-width="0.7"/>
<circle cx="264.05" cy="351.50" r="2.3" fill="#000" fill-opacity="0.2" stroke="#000" stroke-opacity="0.2" stroke-width="0.7"/>
<circle cx="263.89" cy="352.40" r="2.3" fill="#000" fill-opacity="0.2" stroke="#000" stroke-opacity="0.2" stroke-width="0.7"/>
<circle cx="264.33" cy="353.30" r="2.3" fill="#000" fill-opacity="0.2" stroke="#000" stroke-opacity="0.2" stroke-width="0.7"/>
<circle cx="264.32" cy="354.20" r="2.3" fill="#000" fill-opacity="0.2" stroke="#000" stroke-opacity="0.2" stroke-width="0.7"/>
<circle cx="264.00" cy="355.10" r="2.3" fill="#000" fill-opacity="0.2" stroke="#000" stroke-opacity="0.2" stroke-width="0.7"/>
<circle cx="263.91" cy="356.00" r="2.3" fill="#000" fill-opacity="0.2" stroke="#000" stroke-opacity="0.2" stroke-width="0.7"/>
<circle cx="264.19" cy="356.90" r="2.3" fill="#000" fill-opacity="0.2" stroke="#000" stroke-opacity="0.2" stroke-width="0.7"/>
<circle cx="264.36" cy="357.80" r="2.3" fill="#000" fill-opacity="0.2" stroke="#000" stroke-opacity="0.2" stroke-width="0.7"/>
<circle cx="263.81" cy="358.70" r="2.3" fill="#000" fill-opacity="0.2" stroke="#000" stroke-opacity="0.2" stroke-width="0.7"/>
<circle cx="264.21" cy="359.60" r="2.3" fill="#000" fill-opacity="0.2" stroke="#000" stroke-opacity="0.2" stroke-width="0.7"/>
<circle cx="264.48" cy="360.50" r="2.3" fill="#000" fill-opacity="0.2" stroke="#000" stroke-opacity="0.2" stroke-width="0.7"/>
<circle cx="263.89" cy="361.40" r="2.3" fill="#000" fill-opacity="0.2" stroke="#000" stroke-opacity="0.2" stroke-width="0.7"/>
<circle cx="263.61" cy="362.30" r="2.3" fill="#000" fill-opacity="0.2" stroke="#000" stroke-opacity="0.2" stroke-width="0.7"/>
<circle cx="263.61" cy="363.20" r="2.3" fill="#000" fill-opacity="0.2" stroke="#000" stroke-opacity="0.2" stroke-width="0.7"/>
<circle cx="264.19" cy="364.10" r="2.3" fill="#000" fill-opacity="0.2" stroke="#000" stroke-opacity="0.2" stroke-width="0.7"/>
<circle cx="264.14" cy="365.00" r="2.3" fill="#000" fill-opacity="0.2" stroke="#000" stroke-opacity="0.2" stroke-width="0.7"/>
<circle cx="264.48" cy="365.90" r="2.3" fill="#000" fill-opacity="0.2" stroke="#000" stroke-opacity="0.2" stroke-width="0.7"/>
<circle cx="264.35" cy="366.80" r="2.3" fill="#000" fill-opacity="0.2" stroke="#000" stroke-opacity="0.2" stroke-width="0.7"/>
<circle cx="263.62" cy="367.70" r="2.3" fill="#000" fill-opacity="0.2" stroke="#000" stroke-opacity="0.2" stroke-width="0.7"/>
<circle cx="263.56" cy="368.60" r="2.3" fill="#000" fill-opacity="0.2" stroke="#000" stroke-opacity="0.2" stroke-width="0.7"/>
</g>
<rect x="199.90" y="233.80" width="86.60" height="158.50" fill="none" stroke="#9a9a9a" stroke-width="1" />
<text x="243.00" y="245.00" font-size="10.1" text-anchor="middle" font-weight="normal" fill="#222"  textLength="69.39999999999999" lengthAdjust="spacingAndGlyphs" style="">Month <tspan font-style="italic">P</tspan> = 0.16</text>
<text x="243.45" y="257.35" font-size="10.1" text-anchor="middle" font-weight="normal" fill="#222"  textLength="68.3" lengthAdjust="spacingAndGlyphs" style="">Depth <tspan font-style="italic">P</tspan> = 0.10</text>
<text x="242.85" y="269.70" font-size="10.1" text-anchor="middle" font-weight="normal" fill="#222"  textLength="62.099999999999994" lengthAdjust="spacingAndGlyphs" style="">M × D<tspan font-style="italic">P</tspan> = 0.13</text>
<text x="196.90" y="374.70" font-size="9.0" text-anchor="end" font-weight="normal" fill="#333333"  textLength="5.75" lengthAdjust="spacingAndGlyphs" style="">0</text>
<text x="196.90" y="342.60" font-size="9.0" text-anchor="end" font-weight="normal" fill="#333333"  textLength="4.2" lengthAdjust="spacingAndGlyphs" style="">1</text>
<text x="196.90" y="310.50" font-size="9.0" text-anchor="end" font-weight="normal" fill="#333333"  textLength="5.75" lengthAdjust="spacingAndGlyphs" style="">2</text>
<text x="196.90" y="278.40" font-size="9.0" text-anchor="end" font-weight="normal" fill="#333333"  textLength="5.75" lengthAdjust="spacingAndGlyphs" style="">3</text>
<text x="196.90" y="246.30" font-size="9.0" text-anchor="end" font-weight="normal" fill="#333333"  textLength="5.75" lengthAdjust="spacingAndGlyphs" style="">4</text>
<text x="170.00" y="312.40" font-size="10.3" text-anchor="middle" fill="#262626" textLength="121.6" lengthAdjust="spacingAndGlyphs" transform="rotate(-90 170.00 312.40)">Total free primary amines</text>
<text x="181.60" y="311.70" font-size="10.3" text-anchor="middle" fill="#262626" textLength="64.6" lengthAdjust="spacingAndGlyphs" transform="rotate(-90 181.60 311.70)">(µg N g<tspan dy="-3.6" font-size="7.2">−1</tspan><tspan dy="3.6"> soil)</tspan></text>
<text x="212.25" y="399.80" font-size="9.1" text-anchor="end" fill="#333333" transform="rotate(-45 212.25 399.80)">Sept</text>
<text x="226.17" y="399.80" font-size="9.1" text-anchor="end" fill="#333333" transform="rotate(-45 226.17 399.80)">Mar</text>
<text x="240.09" y="399.80" font-size="9.1" text-anchor="end" fill="#333333" transform="rotate(-45 240.09 399.80)">May</text>
<text x="254.01" y="399.80" font-size="9.1" text-anchor="end" fill="#333333" transform="rotate(-45 254.01 399.80)">Jun</text>
<text x="267.93" y="399.80" font-size="9.1" text-anchor="end" fill="#333333" transform="rotate(-45 267.93 399.80)">July</text>
<text x="281.85" y="399.80" font-size="9.1" text-anchor="end" fill="#333333" transform="rotate(-45 281.85 399.80)">Sept</text>
<polyline points="212.00,414.20 212.00,417.50 233.30,417.50 233.30,414.20" fill="none" stroke="#777" stroke-width="0.9"/>
<line x1="222.65" y1="417.50" x2="222.65" y2="421.80" stroke="#777" stroke-width="0.9" />
<text x="222.10" y="431.80" font-size="10.3" text-anchor="middle" font-weight="normal" fill="#262626"  textLength="47.3" lengthAdjust="spacingAndGlyphs" style="">Snowmelt</text>
<text x="154.60" y="238.50" font-size="15" text-anchor="start" font-weight="bold" fill="#000"  style="">g</text>
<rect x="338.70" y="233.90" width="86.90" height="158.40" fill="white" />
<g clip-path="url(#cliph)">
<line x1="338.70" y1="361.55" x2="425.60" y2="361.55" stroke="#e9e9e9" stroke-width="0.9" />
<line x1="338.70" y1="315.65" x2="425.60" y2="315.65" stroke="#e9e9e9" stroke-width="0.9" />
<line x1="338.70" y1="269.75" x2="425.60" y2="269.75" stroke="#e9e9e9" stroke-width="0.9" />
<line x1="338.70" y1="384.50" x2="425.60" y2="384.50" stroke="#e6e6e6" stroke-width="1" />
<line x1="338.70" y1="338.60" x2="425.60" y2="338.60" stroke="#e6e6e6" stroke-width="1" />
<line x1="338.70" y1="292.70" x2="425.60" y2="292.70" stroke="#e6e6e6" stroke-width="1" />
<line x1="338.70" y1="246.80" x2="425.60" y2="246.80" stroke="#e6e6e6" stroke-width="1" />
<line x1="347.05" y1="233.90" x2="347.05" y2="392.30" stroke="#e6e6e6" stroke-width="1" />
<line x1="360.97" y1="233.90" x2="360.97" y2="392.30" stroke="#e6e6e6" stroke-width="1" />
<line x1="374.89" y1="233.90" x2="374.89" y2="392.30" stroke="#e6e6e6" stroke-width="1" />
<line x1="388.81" y1="233.90" x2="388.81" y2="392.30" stroke="#e6e6e6" stroke-width="1" />
<line x1="402.73" y1="233.90" x2="402.73" y2="392.30" stroke="#e6e6e6" stroke-width="1" />
<line x1="416.65" y1="233.90" x2="416.65" y2="392.30" stroke="#e6e6e6" stroke-width="1" />
<polygon points="347.05,348.10 360.97,341.30 374.89,348.30 388.81,319.70 402.73,299.90 416.65,340.60 416.65,360.60 402.73,327.90 388.81,343.70 374.89,368.30 360.97,361.30 347.05,366.10" fill="#9a9a9a" fill-opacity="0.13"/>
<polygon points="347.05,355.10 360.97,354.50 374.89,356.40 388.81,337.20 402.73,324.00 416.65,343.90 416.65,363.90 402.73,352.00 388.81,361.20 374.89,376.40 360.97,374.50 347.05,373.10" fill="#9a9a9a" fill-opacity="0.13"/>
<polygon points="347.05,354.60 360.97,354.10 374.89,354.50 388.81,333.00 402.73,325.40 416.65,342.80 416.65,362.80 402.73,353.40 388.81,357.00 374.89,374.50 360.97,374.10 347.05,372.60" fill="#9a9a9a" fill-opacity="0.13"/>
<polyline points="347.05,357.10 360.97,351.30 374.89,358.30 388.81,331.70 402.73,313.90 416.65,350.60" fill="none" stroke="#00E5EE" stroke-width="2.9" stroke-linejoin="round"/>
<polyline points="347.05,364.10 360.97,364.50 374.89,366.40 388.81,349.20 402.73,338.00 416.65,353.90" fill="none" stroke="#FF00FF" stroke-width="2.9" stroke-linejoin="round"/>
<polyline points="347.05,363.60 360.97,364.10 374.89,364.50 388.81,345.00 402.73,339.40 416.65,352.80" fill="none" stroke="#6A5ACD" stroke-width="2.9" stroke-linejoin="round"/>
<circle cx="346.76" cy="330.50" r="2.3" fill="#000" fill-opacity="0.2" stroke="#000" stroke-opacity="0.2" stroke-width="0.7"/>
<circle cx="346.67" cy="346.70" r="2.3" fill="#000" fill-opacity="0.2" stroke="#000" stroke-opacity="0.2" stroke-width="0.7"/>
<circle cx="347.30" cy="352.50" r="2.3" fill="#000" fill-opacity="0.2" stroke="#000" stroke-opacity="0.2" stroke-width="0.7"/>
<circle cx="347.48" cy="353.00" r="2.3" fill="#000" fill-opacity="0.2" stroke="#000" stroke-opacity="0.2" stroke-width="0.7"/>
<circle cx="347.53" cy="353.50" r="2.3" fill="#000" fill-opacity="0.2" stroke="#000" stroke-opacity="0.2" stroke-width="0.7"/>
<circle cx="346.76" cy="354.00" r="2.3" fill="#000" fill-opacity="0.2" stroke="#000" stroke-opacity="0.2" stroke-width="0.7"/>
<circle cx="347.49" cy="354.50" r="2.3" fill="#000" fill-opacity="0.2" stroke="#000" stroke-opacity="0.2" stroke-width="0.7"/>
<circle cx="346.83" cy="355.00" r="2.3" fill="#000" fill-opacity="0.2" stroke="#000" stroke-opacity="0.2" stroke-width="0.7"/>
<circle cx="346.96" cy="355.50" r="2.3" fill="#000" fill-opacity="0.2" stroke="#000" stroke-opacity="0.2" stroke-width="0.7"/>
<circle cx="347.32" cy="356.00" r="2.3" fill="#000" fill-opacity="0.2" stroke="#000" stroke-opacity="0.2" stroke-width="0.7"/>
<circle cx="346.55" cy="356.50" r="2.3" fill="#000" fill-opacity="0.2" stroke="#000" stroke-opacity="0.2" stroke-width="0.7"/>
<circle cx="346.56" cy="357.00" r="2.3" fill="#000" fill-opacity="0.2" stroke="#000" stroke-opacity="0.2" stroke-width="0.7"/>
<circle cx="347.45" cy="364.10" r="2.3" fill="#000" fill-opacity="0.2" stroke="#000" stroke-opacity="0.2" stroke-width="0.7"/>
<circle cx="346.80" cy="364.60" r="2.3" fill="#000" fill-opacity="0.2" stroke="#000" stroke-opacity="0.2" stroke-width="0.7"/>
<circle cx="346.88" cy="365.10" r="2.3" fill="#000" fill-opacity="0.2" stroke="#000" stroke-opacity="0.2" stroke-width="0.7"/>
<circle cx="347.15" cy="365.60" r="2.3" fill="#000" fill-opacity="0.2" stroke="#000" stroke-opacity="0.2" stroke-width="0.7"/>
<circle cx="347.26" cy="366.10" r="2.3" fill="#000" fill-opacity="0.2" stroke="#000" stroke-opacity="0.2" stroke-width="0.7"/>
<circle cx="346.46" cy="366.60" r="2.3" fill="#000" fill-opacity="0.2" stroke="#000" stroke-opacity="0.2" stroke-width="0.7"/>
<circle cx="346.85" cy="367.10" r="2.3" fill="#000" fill-opacity="0.2" stroke="#000" stroke-opacity="0.2" stroke-width="0.7"/>
<circle cx="346.97" cy="367.60" r="2.3" fill="#000" fill-opacity="0.2" stroke="#000" stroke-opacity="0.2" stroke-width="0.7"/>
<circle cx="347.03" cy="368.10" r="2.3" fill="#000" fill-opacity="0.2" stroke="#000" stroke-opacity="0.2" stroke-width="0.7"/>
<circle cx="346.70" cy="368.60" r="2.3" fill="#000" fill-opacity="0.2" stroke="#000" stroke-opacity="0.2" stroke-width="0.7"/>
<circle cx="347.15" cy="369.10" r="2.3" fill="#000" fill-opacity="0.2" stroke="#000" stroke-opacity="0.2" stroke-width="0.7"/>
<circle cx="347.60" cy="369.60" r="2.3" fill="#000" fill-opacity="0.2" stroke="#000" stroke-opacity="0.2" stroke-width="0.7"/>
<circle cx="346.92" cy="375.60" r="2.3" fill="#000" fill-opacity="0.2" stroke="#000" stroke-opacity="0.2" stroke-width="0.7"/>
<circle cx="361.02" cy="301.10" r="2.3" fill="#000" fill-opacity="0.2" stroke="#000" stroke-opacity="0.2" stroke-width="0.7"/>
<circle cx="360.51" cy="319.60" r="2.3" fill="#000" fill-opacity="0.2" stroke="#000" stroke-opacity="0.2" stroke-width="0.7"/>
<circle cx="360.70" cy="340.50" r="2.3" fill="#000" fill-opacity="0.2" stroke="#000" stroke-opacity="0.2" stroke-width="0.7"/>
<circle cx="361.17" cy="351.30" r="2.3" fill="#000" fill-opacity="0.2" stroke="#000" stroke-opacity="0.2" stroke-width="0.7"/>
<circle cx="360.51" cy="354.80" r="2.3" fill="#000" fill-opacity="0.2" stroke="#000" stroke-opacity="0.2" stroke-width="0.7"/>
<circle cx="361.43" cy="358.30" r="2.3" fill="#000" fill-opacity="0.2" stroke="#000" stroke-opacity="0.2" stroke-width="0.7"/>
<circle cx="361.46" cy="361.80" r="2.3" fill="#000" fill-opacity="0.2" stroke="#000" stroke-opacity="0.2" stroke-width="0.7"/>
<circle cx="360.49" cy="367.50" r="2.3" fill="#000" fill-opacity="0.2" stroke="#000" stroke-opacity="0.2" stroke-width="0.7"/>
<circle cx="375.42" cy="294.20" r="2.3" fill="#000" fill-opacity="0.2" stroke="#000" stroke-opacity="0.2" stroke-width="0.7"/>
<circle cx="374.74" cy="336.30" r="2.3" fill="#000" fill-opacity="0.2" stroke="#000" stroke-opacity="0.2" stroke-width="0.7"/>
<circle cx="375.22" cy="345.60" r="2.3" fill="#000" fill-opacity="0.2" stroke="#000" stroke-opacity="0.2" stroke-width="0.7"/>
<circle cx="375.20" cy="352.50" r="2.3" fill="#000" fill-opacity="0.2" stroke="#000" stroke-opacity="0.2" stroke-width="0.7"/>
<circle cx="374.64" cy="354.80" r="2.3" fill="#000" fill-opacity="0.2" stroke="#000" stroke-opacity="0.2" stroke-width="0.7"/>
<circle cx="375.10" cy="368.70" r="2.3" fill="#000" fill-opacity="0.2" stroke="#000" stroke-opacity="0.2" stroke-width="0.7"/>
<circle cx="375.07" cy="369.20" r="2.3" fill="#000" fill-opacity="0.2" stroke="#000" stroke-opacity="0.2" stroke-width="0.7"/>
<circle cx="375.26" cy="369.70" r="2.3" fill="#000" fill-opacity="0.2" stroke="#000" stroke-opacity="0.2" stroke-width="0.7"/>
<circle cx="374.61" cy="370.20" r="2.3" fill="#000" fill-opacity="0.2" stroke="#000" stroke-opacity="0.2" stroke-width="0.7"/>
<circle cx="375.20" cy="370.70" r="2.3" fill="#000" fill-opacity="0.2" stroke="#000" stroke-opacity="0.2" stroke-width="0.7"/>
<circle cx="375.44" cy="371.20" r="2.3" fill="#000" fill-opacity="0.2" stroke="#000" stroke-opacity="0.2" stroke-width="0.7"/>
<circle cx="375.10" cy="371.70" r="2.3" fill="#000" fill-opacity="0.2" stroke="#000" stroke-opacity="0.2" stroke-width="0.7"/>
<circle cx="374.93" cy="372.20" r="2.3" fill="#000" fill-opacity="0.2" stroke="#000" stroke-opacity="0.2" stroke-width="0.7"/>
<circle cx="374.43" cy="372.70" r="2.3" fill="#000" fill-opacity="0.2" stroke="#000" stroke-opacity="0.2" stroke-width="0.7"/>
<circle cx="374.88" cy="379.10" r="2.3" fill="#000" fill-opacity="0.2" stroke="#000" stroke-opacity="0.2" stroke-width="0.7"/>
<circle cx="374.71" cy="384.90" r="2.3" fill="#000" fill-opacity="0.2" stroke="#000" stroke-opacity="0.2" stroke-width="0.7"/>
<circle cx="389.07" cy="288.90" r="2.3" fill="#000" fill-opacity="0.2" stroke="#000" stroke-opacity="0.2" stroke-width="0.7"/>
<circle cx="389.02" cy="313.10" r="2.3" fill="#000" fill-opacity="0.2" stroke="#000" stroke-opacity="0.2" stroke-width="0.7"/>
<circle cx="388.89" cy="333.00" r="2.3" fill="#000" fill-opacity="0.2" stroke="#000" stroke-opacity="0.2" stroke-width="0.7"/>
<circle cx="388.43" cy="333.80" r="2.3" fill="#000" fill-opacity="0.2" stroke="#000" stroke-opacity="0.2" stroke-width="0.7"/>
<circle cx="388.98" cy="334.60" r="2.3" fill="#000" fill-opacity="0.2" stroke="#000" stroke-opacity="0.2" stroke-width="0.7"/>
<circle cx="388.97" cy="335.40" r="2.3" fill="#000" fill-opacity="0.2" stroke="#000" stroke-opacity="0.2" stroke-width="0.7"/>
<circle cx="388.42" cy="336.20" r="2.3" fill="#000" fill-opacity="0.2" stroke="#000" stroke-opacity="0.2" stroke-width="0.7"/>
<circle cx="389.28" cy="337.00" r="2.3" fill="#000" fill-opacity="0.2" stroke="#000" stroke-opacity="0.2" stroke-width="0.7"/>
<circle cx="389.00" cy="337.80" r="2.3" fill="#000" fill-opacity="0.2" stroke="#000" stroke-opacity="0.2" stroke-width="0.7"/>
<circle cx="388.36" cy="341.00" r="2.3" fill="#000" fill-opacity="0.2" stroke="#000" stroke-opacity="0.2" stroke-width="0.7"/>
<circle cx="389.33" cy="341.80" r="2.3" fill="#000" fill-opacity="0.2" stroke="#000" stroke-opacity="0.2" stroke-width="0.7"/>
<circle cx="388.38" cy="342.60" r="2.3" fill="#000" fill-opacity="0.2" stroke="#000" stroke-opacity="0.2" stroke-width="0.7"/>
<circle cx="388.61" cy="343.40" r="2.3" fill="#000" fill-opacity="0.2" stroke="#000" stroke-opacity="0.2" stroke-width="0.7"/>
<circle cx="389.07" cy="344.20" r="2.3" fill="#000" fill-opacity="0.2" stroke="#000" stroke-opacity="0.2" stroke-width="0.7"/>
<circle cx="388.93" cy="345.00" r="2.3" fill="#000" fill-opacity="0.2" stroke="#000" stroke-opacity="0.2" stroke-width="0.7"/>
<circle cx="388.88" cy="345.80" r="2.3" fill="#000" fill-opacity="0.2" stroke="#000" stroke-opacity="0.2" stroke-width="0.7"/>
<circle cx="388.99" cy="350.00" r="2.3" fill="#000" fill-opacity="0.2" stroke="#000" stroke-opacity="0.2" stroke-width="0.7"/>
<circle cx="388.76" cy="350.80" r="2.3" fill="#000" fill-opacity="0.2" stroke="#000" stroke-opacity="0.2" stroke-width="0.7"/>
<circle cx="388.58" cy="351.60" r="2.3" fill="#000" fill-opacity="0.2" stroke="#000" stroke-opacity="0.2" stroke-width="0.7"/>
<circle cx="388.42" cy="352.40" r="2.3" fill="#000" fill-opacity="0.2" stroke="#000" stroke-opacity="0.2" stroke-width="0.7"/>
<circle cx="388.29" cy="353.20" r="2.3" fill="#000" fill-opacity="0.2" stroke="#000" stroke-opacity="0.2" stroke-width="0.7"/>
<circle cx="389.07" cy="354.00" r="2.3" fill="#000" fill-opacity="0.2" stroke="#000" stroke-opacity="0.2" stroke-width="0.7"/>
<circle cx="389.12" cy="354.80" r="2.3" fill="#000" fill-opacity="0.2" stroke="#000" stroke-opacity="0.2" stroke-width="0.7"/>
<circle cx="388.86" cy="365.80" r="2.3" fill="#000" fill-opacity="0.2" stroke="#000" stroke-opacity="0.2" stroke-width="0.7"/>
<circle cx="389.10" cy="375.60" r="2.3" fill="#000" fill-opacity="0.2" stroke="#000" stroke-opacity="0.2" stroke-width="0.7"/>
<circle cx="402.56" cy="296.40" r="2.3" fill="#000" fill-opacity="0.2" stroke="#000" stroke-opacity="0.2" stroke-width="0.7"/>
<circle cx="402.45" cy="297.80" r="2.3" fill="#000" fill-opacity="0.2" stroke="#000" stroke-opacity="0.2" stroke-width="0.7"/>
<circle cx="402.59" cy="299.20" r="2.3" fill="#000" fill-opacity="0.2" stroke="#000" stroke-opacity="0.2" stroke-width="0.7"/>
<circle cx="403.18" cy="301.90" r="2.3" fill="#000" fill-opacity="0.2" stroke="#000" stroke-opacity="0.2" stroke-width="0.7"/>
<circle cx="402.18" cy="306.10" r="2.3" fill="#000" fill-opacity="0.2" stroke="#000" stroke-opacity="0.2" stroke-width="0.7"/>
<circle cx="402.74" cy="313.10" r="2.3" fill="#000" fill-opacity="0.2" stroke="#000" stroke-opacity="0.2" stroke-width="0.7"/>
<circle cx="402.43" cy="318.60" r="2.3" fill="#000" fill-opacity="0.2" stroke="#000" stroke-opacity="0.2" stroke-width="0.7"/>
<circle cx="403.05" cy="324.20" r="2.3" fill="#000" fill-opacity="0.2" stroke="#000" stroke-opacity="0.2" stroke-width="0.7"/>
<circle cx="402.55" cy="328.30" r="2.3" fill="#000" fill-opacity="0.2" stroke="#000" stroke-opacity="0.2" stroke-width="0.7"/>
<circle cx="402.53" cy="332.50" r="2.3" fill="#000" fill-opacity="0.2" stroke="#000" stroke-opacity="0.2" stroke-width="0.7"/>
<circle cx="402.61" cy="336.70" r="2.3" fill="#000" fill-opacity="0.2" stroke="#000" stroke-opacity="0.2" stroke-width="0.7"/>
<circle cx="402.78" cy="342.20" r="2.3" fill="#000" fill-opacity="0.2" stroke="#000" stroke-opacity="0.2" stroke-width="0.7"/>
<circle cx="403.06" cy="347.80" r="2.3" fill="#000" fill-opacity="0.2" stroke="#000" stroke-opacity="0.2" stroke-width="0.7"/>
<circle cx="402.55" cy="354.70" r="2.3" fill="#000" fill-opacity="0.2" stroke="#000" stroke-opacity="0.2" stroke-width="0.7"/>
<circle cx="417.07" cy="289.40" r="2.3" fill="#000" fill-opacity="0.2" stroke="#000" stroke-opacity="0.2" stroke-width="0.7"/>
<circle cx="416.18" cy="311.70" r="2.3" fill="#000" fill-opacity="0.2" stroke="#000" stroke-opacity="0.2" stroke-width="0.7"/>
<circle cx="416.37" cy="322.80" r="2.3" fill="#000" fill-opacity="0.2" stroke="#000" stroke-opacity="0.2" stroke-width="0.7"/>
<circle cx="416.17" cy="335.30" r="2.3" fill="#000" fill-opacity="0.2" stroke="#000" stroke-opacity="0.2" stroke-width="0.7"/>
<circle cx="416.19" cy="339.40" r="2.3" fill="#000" fill-opacity="0.2" stroke="#000" stroke-opacity="0.2" stroke-width="0.7"/>
<circle cx="416.98" cy="346.40" r="2.3" fill="#000" fill-opacity="0.2" stroke="#000" stroke-opacity="0.2" stroke-width="0.7"/>
<circle cx="416.92" cy="351.90" r="2.3" fill="#000" fill-opacity="0.2" stroke="#000" stroke-opacity="0.2" stroke-width="0.7"/>
<circle cx="416.27" cy="352.90" r="2.3" fill="#000" fill-opacity="0.2" stroke="#000" stroke-opacity="0.2" stroke-width="0.7"/>
<circle cx="416.28" cy="353.90" r="2.3" fill="#000" fill-opacity="0.2" stroke="#000" stroke-opacity="0.2" stroke-width="0.7"/>
<circle cx="416.55" cy="354.90" r="2.3" fill="#000" fill-opacity="0.2" stroke="#000" stroke-opacity="0.2" stroke-width="0.7"/>
<circle cx="416.94" cy="355.90" r="2.3" fill="#000" fill-opacity="0.2" stroke="#000" stroke-opacity="0.2" stroke-width="0.7"/>
<circle cx="417.03" cy="356.90" r="2.3" fill="#000" fill-opacity="0.2" stroke="#000" stroke-opacity="0.2" stroke-width="0.7"/>
<circle cx="416.95" cy="357.90" r="2.3" fill="#000" fill-opacity="0.2" stroke="#000" stroke-opacity="0.2" stroke-width="0.7"/>
<circle cx="416.76" cy="358.90" r="2.3" fill="#000" fill-opacity="0.2" stroke="#000" stroke-opacity="0.2" stroke-width="0.7"/>
<circle cx="416.23" cy="359.90" r="2.3" fill="#000" fill-opacity="0.2" stroke="#000" stroke-opacity="0.2" stroke-width="0.7"/>
<circle cx="416.53" cy="360.90" r="2.3" fill="#000" fill-opacity="0.2" stroke="#000" stroke-opacity="0.2" stroke-width="0.7"/>
<circle cx="416.28" cy="361.90" r="2.3" fill="#000" fill-opacity="0.2" stroke="#000" stroke-opacity="0.2" stroke-width="0.7"/>
<circle cx="416.68" cy="362.90" r="2.3" fill="#000" fill-opacity="0.2" stroke="#000" stroke-opacity="0.2" stroke-width="0.7"/>
<circle cx="416.73" cy="363.90" r="2.3" fill="#000" fill-opacity="0.2" stroke="#000" stroke-opacity="0.2" stroke-width="0.7"/>
<circle cx="416.29" cy="364.90" r="2.3" fill="#000" fill-opacity="0.2" stroke="#000" stroke-opacity="0.2" stroke-width="0.7"/>
<circle cx="416.35" cy="365.90" r="2.3" fill="#000" fill-opacity="0.2" stroke="#000" stroke-opacity="0.2" stroke-width="0.7"/>
<circle cx="416.99" cy="366.90" r="2.3" fill="#000" fill-opacity="0.2" stroke="#000" stroke-opacity="0.2" stroke-width="0.7"/>
<circle cx="416.09" cy="367.90" r="2.3" fill="#000" fill-opacity="0.2" stroke="#000" stroke-opacity="0.2" stroke-width="0.7"/>
</g>
<rect x="338.70" y="233.90" width="86.90" height="158.40" fill="none" stroke="#9a9a9a" stroke-width="1" />
<text x="381.35" y="245.00" font-size="10.1" text-anchor="middle" font-weight="normal" fill="#222"  textLength="76.7" lengthAdjust="spacingAndGlyphs" style="">Month <tspan font-style="italic">P</tspan> &lt; 0.001</text>
<text x="382.20" y="257.35" font-size="10.1" text-anchor="middle" font-weight="normal" fill="#222"  textLength="70.8" lengthAdjust="spacingAndGlyphs" style="">Depth <tspan font-style="italic">P</tspan> = 0.08</text>
<text x="381.60" y="269.70" font-size="10.1" text-anchor="middle" font-weight="normal" fill="#222"  textLength="64.6" lengthAdjust="spacingAndGlyphs" style="">M × D <tspan font-style="italic">P</tspan> = 0.12</text>
<text x="335.70" y="386.70" font-size="9.0" text-anchor="end" font-weight="normal" fill="#333333"  textLength="5.75" lengthAdjust="spacingAndGlyphs" style="">0</text>
<text x="335.70" y="340.80" font-size="9.0" text-anchor="end" font-weight="normal" fill="#333333"  textLength="5.75" lengthAdjust="spacingAndGlyphs" style="">5</text>
<text x="335.70" y="294.90" font-size="9.0" text-anchor="end" font-weight="normal" fill="#333333"  textLength="9.95" lengthAdjust="spacingAndGlyphs" style="">10</text>
<text x="335.70" y="249.00" font-size="9.0" text-anchor="end" font-weight="normal" fill="#333333"  textLength="9.95" lengthAdjust="spacingAndGlyphs" style="">15</text>
<text x="317.80" y="312.75" font-size="10.3" text-anchor="middle" fill="#262626" textLength="122.3" lengthAdjust="spacingAndGlyphs" transform="rotate(-90 317.80 312.75)">Ammonium (µg N g<tspan dy="-3.6" font-size="7.2">−1</tspan><tspan dy="3.6"> soil)</tspan></text>
<text x="351.05" y="399.80" font-size="9.1" text-anchor="end" fill="#333333" transform="rotate(-45 351.05 399.80)">Sept</text>
<text x="364.97" y="399.80" font-size="9.1" text-anchor="end" fill="#333333" transform="rotate(-45 364.97 399.80)">Mar</text>
<text x="378.89" y="399.80" font-size="9.1" text-anchor="end" fill="#333333" transform="rotate(-45 378.89 399.80)">May</text>
<text x="392.81" y="399.80" font-size="9.1" text-anchor="end" fill="#333333" transform="rotate(-45 392.81 399.80)">Jun</text>
<text x="406.73" y="399.80" font-size="9.1" text-anchor="end" fill="#333333" transform="rotate(-45 406.73 399.80)">July</text>
<text x="420.65" y="399.80" font-size="9.1" text-anchor="end" fill="#333333" transform="rotate(-45 420.65 399.80)">Sept</text>
<polyline points="350.80,414.20 350.80,417.50 372.10,417.50 372.10,414.20" fill="none" stroke="#777" stroke-width="0.9"/>
<line x1="361.45" y1="417.50" x2="361.45" y2="421.80" stroke="#777" stroke-width="0.9" />
<text x="360.90" y="431.80" font-size="10.3" text-anchor="middle" font-weight="normal" fill="#262626"  textLength="47.3" lengthAdjust="spacingAndGlyphs" style="">Snowmelt</text>
<text x="296.60" y="241.00" font-size="15" text-anchor="start" font-weight="bold" fill="#000"  style="">h</text>
<rect x="477.60" y="233.80" width="86.90" height="158.50" fill="white" />
<g clip-path="url(#clipi)">
<line x1="477.60" y1="364.45" x2="564.50" y2="364.45" stroke="#e9e9e9" stroke-width="0.9" />
<line x1="477.60" y1="328.15" x2="564.50" y2="328.15" stroke="#e9e9e9" stroke-width="0.9" />
<line x1="477.60" y1="291.85" x2="564.50" y2="291.85" stroke="#e9e9e9" stroke-width="0.9" />
<line x1="477.60" y1="255.55" x2="564.50" y2="255.55" stroke="#e9e9e9" stroke-width="0.9" />
<line x1="477.60" y1="382.60" x2="564.50" y2="382.60" stroke="#e6e6e6" stroke-width="1" />
<line x1="477.60" y1="346.30" x2="564.50" y2="346.30" stroke="#e6e6e6" stroke-width="1" />
<line x1="477.60" y1="310.00" x2="564.50" y2="310.00" stroke="#e6e6e6" stroke-width="1" />
<line x1="477.60" y1="273.70" x2="564.50" y2="273.70" stroke="#e6e6e6" stroke-width="1" />
<line x1="477.60" y1="237.40" x2="564.50" y2="237.40" stroke="#e6e6e6" stroke-width="1" />
<line x1="485.95" y1="233.80" x2="485.95" y2="392.30" stroke="#e6e6e6" stroke-width="1" />
<line x1="499.87" y1="233.80" x2="499.87" y2="392.30" stroke="#e6e6e6" stroke-width="1" />
<line x1="513.79" y1="233.80" x2="513.79" y2="392.30" stroke="#e6e6e6" stroke-width="1" />
<line x1="527.71" y1="233.80" x2="527.71" y2="392.30" stroke="#e6e6e6" stroke-width="1" />
<line x1="541.63" y1="233.80" x2="541.63" y2="392.30" stroke="#e6e6e6" stroke-width="1" />
<line x1="555.55" y1="233.80" x2="555.55" y2="392.30" stroke="#e6e6e6" stroke-width="1" />
<polygon points="485.95,334.40 499.87,348.30 513.79,341.30 527.71,316.30 541.63,329.70 555.55,331.00 555.55,359.00 541.63,353.70 527.71,340.30 513.79,365.30 499.87,372.30 485.95,358.40" fill="#9a9a9a" fill-opacity="0.13"/>
<polygon points="485.95,339.90 499.87,353.80 513.79,352.40 527.71,319.10 541.63,340.80 555.55,354.60 555.55,382.60 541.63,364.80 527.71,343.10 513.79,376.40 499.87,377.80 485.95,363.90" fill="#9a9a9a" fill-opacity="0.13"/>
<polygon points="485.95,335.80 499.87,358.00 513.79,360.20 527.71,320.50 541.63,342.70 555.55,358.80 555.55,386.80 541.63,366.70 527.71,344.50 513.79,384.20 499.87,382.00 485.95,359.80" fill="#9a9a9a" fill-opacity="0.13"/>
<polyline points="485.95,346.40 499.87,360.30 513.79,353.30 527.71,328.30 541.63,341.70 555.55,345.00" fill="none" stroke="#00E5EE" stroke-width="2.9" stroke-linejoin="round"/>
<polyline points="485.95,351.90 499.87,365.80 513.79,364.40 527.71,331.10 541.63,352.80 555.55,368.60" fill="none" stroke="#FF00FF" stroke-width="2.9" stroke-linejoin="round"/>
<polyline points="485.95,347.80 499.87,370.00 513.79,372.20 527.71,332.50 541.63,354.70 555.55,372.80" fill="none" stroke="#6A5ACD" stroke-width="2.9" stroke-linejoin="round"/>
<circle cx="486.31" cy="303.90" r="2.3" fill="#000" fill-opacity="0.2" stroke="#000" stroke-opacity="0.2" stroke-width="0.7"/>
<circle cx="486.42" cy="311.10" r="2.3" fill="#000" fill-opacity="0.2" stroke="#000" stroke-opacity="0.2" stroke-width="0.7"/>
<circle cx="486.49" cy="316.70" r="2.3" fill="#000" fill-opacity="0.2" stroke="#000" stroke-opacity="0.2" stroke-width="0.7"/>
<circle cx="485.81" cy="328.30" r="2.3" fill="#000" fill-opacity="0.2" stroke="#000" stroke-opacity="0.2" stroke-width="0.7"/>
<circle cx="486.01" cy="329.90" r="2.3" fill="#000" fill-opacity="0.2" stroke="#000" stroke-opacity="0.2" stroke-width="0.7"/>
<circle cx="486.05" cy="331.50" r="2.3" fill="#000" fill-opacity="0.2" stroke="#000" stroke-opacity="0.2" stroke-width="0.7"/>
<circle cx="486.11" cy="333.10" r="2.3" fill="#000" fill-opacity="0.2" stroke="#000" stroke-opacity="0.2" stroke-width="0.7"/>
<circle cx="486.52" cy="334.70" r="2.3" fill="#000" fill-opacity="0.2" stroke="#000" stroke-opacity="0.2" stroke-width="0.7"/>
<circle cx="486.17" cy="336.30" r="2.3" fill="#000" fill-opacity="0.2" stroke="#000" stroke-opacity="0.2" stroke-width="0.7"/>
<circle cx="485.71" cy="337.90" r="2.3" fill="#000" fill-opacity="0.2" stroke="#000" stroke-opacity="0.2" stroke-width="0.7"/>
<circle cx="486.38" cy="339.50" r="2.3" fill="#000" fill-opacity="0.2" stroke="#000" stroke-opacity="0.2" stroke-width="0.7"/>
<circle cx="485.93" cy="341.10" r="2.3" fill="#000" fill-opacity="0.2" stroke="#000" stroke-opacity="0.2" stroke-width="0.7"/>
<circle cx="486.07" cy="342.70" r="2.3" fill="#000" fill-opacity="0.2" stroke="#000" stroke-opacity="0.2" stroke-width="0.7"/>
<circle cx="486.22" cy="344.30" r="2.3" fill="#000" fill-opacity="0.2" stroke="#000" stroke-opacity="0.2" stroke-width="0.7"/>
<circle cx="485.35" cy="345.90" r="2.3" fill="#000" fill-opacity="0.2" stroke="#000" stroke-opacity="0.2" stroke-width="0.7"/>
<circle cx="486.27" cy="347.50" r="2.3" fill="#000" fill-opacity="0.2" stroke="#000" stroke-opacity="0.2" stroke-width="0.7"/>
<circle cx="486.14" cy="349.10" r="2.3" fill="#000" fill-opacity="0.2" stroke="#000" stroke-opacity="0.2" stroke-width="0.7"/>
<circle cx="485.94" cy="350.70" r="2.3" fill="#000" fill-opacity="0.2" stroke="#000" stroke-opacity="0.2" stroke-width="0.7"/>
<circle cx="485.98" cy="356.00" r="2.3" fill="#000" fill-opacity="0.2" stroke="#000" stroke-opacity="0.2" stroke-width="0.7"/>
<circle cx="485.90" cy="357.60" r="2.3" fill="#000" fill-opacity="0.2" stroke="#000" stroke-opacity="0.2" stroke-width="0.7"/>
<circle cx="485.58" cy="359.20" r="2.3" fill="#000" fill-opacity="0.2" stroke="#000" stroke-opacity="0.2" stroke-width="0.7"/>
<circle cx="485.99" cy="360.80" r="2.3" fill="#000" fill-opacity="0.2" stroke="#000" stroke-opacity="0.2" stroke-width="0.7"/>
<circle cx="485.39" cy="362.40" r="2.3" fill="#000" fill-opacity="0.2" stroke="#000" stroke-opacity="0.2" stroke-width="0.7"/>
<circle cx="485.95" cy="364.00" r="2.3" fill="#000" fill-opacity="0.2" stroke="#000" stroke-opacity="0.2" stroke-width="0.7"/>
<circle cx="486.13" cy="365.60" r="2.3" fill="#000" fill-opacity="0.2" stroke="#000" stroke-opacity="0.2" stroke-width="0.7"/>
<circle cx="485.88" cy="367.20" r="2.3" fill="#000" fill-opacity="0.2" stroke="#000" stroke-opacity="0.2" stroke-width="0.7"/>
<circle cx="486.03" cy="368.80" r="2.3" fill="#000" fill-opacity="0.2" stroke="#000" stroke-opacity="0.2" stroke-width="0.7"/>
<circle cx="486.50" cy="370.40" r="2.3" fill="#000" fill-opacity="0.2" stroke="#000" stroke-opacity="0.2" stroke-width="0.7"/>
<circle cx="486.42" cy="372.00" r="2.3" fill="#000" fill-opacity="0.2" stroke="#000" stroke-opacity="0.2" stroke-width="0.7"/>
<circle cx="485.51" cy="376.90" r="2.3" fill="#000" fill-opacity="0.2" stroke="#000" stroke-opacity="0.2" stroke-width="0.7"/>
<circle cx="500.22" cy="338.10" r="2.3" fill="#000" fill-opacity="0.2" stroke="#000" stroke-opacity="0.2" stroke-width="0.7"/>
<circle cx="500.02" cy="342.20" r="2.3" fill="#000" fill-opacity="0.2" stroke="#000" stroke-opacity="0.2" stroke-width="0.7"/>
<circle cx="499.33" cy="346.40" r="2.3" fill="#000" fill-opacity="0.2" stroke="#000" stroke-opacity="0.2" stroke-width="0.7"/>
<circle cx="499.70" cy="353.30" r="2.3" fill="#000" fill-opacity="0.2" stroke="#000" stroke-opacity="0.2" stroke-width="0.7"/>
<circle cx="499.55" cy="358.90" r="2.3" fill="#000" fill-opacity="0.2" stroke="#000" stroke-opacity="0.2" stroke-width="0.7"/>
<circle cx="499.36" cy="365.80" r="2.3" fill="#000" fill-opacity="0.2" stroke="#000" stroke-opacity="0.2" stroke-width="0.7"/>
<circle cx="499.92" cy="376.90" r="2.3" fill="#000" fill-opacity="0.2" stroke="#000" stroke-opacity="0.2" stroke-width="0.7"/>
<circle cx="500.39" cy="379.70" r="2.3" fill="#000" fill-opacity="0.2" stroke="#000" stroke-opacity="0.2" stroke-width="0.7"/>
<circle cx="513.58" cy="240.80" r="2.3" fill="#000" fill-opacity="0.2" stroke="#000" stroke-opacity="0.2" stroke-width="0.7"/>
<circle cx="514.23" cy="275.00" r="2.3" fill="#000" fill-opacity="0.2" stroke="#000" stroke-opacity="0.2" stroke-width="0.7"/>
<circle cx="514.02" cy="336.70" r="2.3" fill="#000" fill-opacity="0.2" stroke="#000" stroke-opacity="0.2" stroke-width="0.7"/>
<circle cx="513.35" cy="350.60" r="2.3" fill="#000" fill-opacity="0.2" stroke="#000" stroke-opacity="0.2" stroke-width="0.7"/>
<circle cx="514.22" cy="368.60" r="2.3" fill="#000" fill-opacity="0.2" stroke="#000" stroke-opacity="0.2" stroke-width="0.7"/>
<circle cx="513.91" cy="372.80" r="2.3" fill="#000" fill-opacity="0.2" stroke="#000" stroke-opacity="0.2" stroke-width="0.7"/>
<circle cx="514.30" cy="376.90" r="2.3" fill="#000" fill-opacity="0.2" stroke="#000" stroke-opacity="0.2" stroke-width="0.7"/>
<circle cx="514.05" cy="379.00" r="2.3" fill="#000" fill-opacity="0.2" stroke="#000" stroke-opacity="0.2" stroke-width="0.7"/>
<circle cx="514.08" cy="379.50" r="2.3" fill="#000" fill-opacity="0.2" stroke="#000" stroke-opacity="0.2" stroke-width="0.7"/>
<circle cx="513.60" cy="380.00" r="2.3" fill="#000" fill-opacity="0.2" stroke="#000" stroke-opacity="0.2" stroke-width="0.7"/>
<circle cx="514.16" cy="380.50" r="2.3" fill="#000" fill-opacity="0.2" stroke="#000" stroke-opacity="0.2" stroke-width="0.7"/>
<circle cx="514.31" cy="381.00" r="2.3" fill="#000" fill-opacity="0.2" stroke="#000" stroke-opacity="0.2" stroke-width="0.7"/>
<circle cx="514.22" cy="381.50" r="2.3" fill="#000" fill-opacity="0.2" stroke="#000" stroke-opacity="0.2" stroke-width="0.7"/>
<circle cx="513.71" cy="382.00" r="2.3" fill="#000" fill-opacity="0.2" stroke="#000" stroke-opacity="0.2" stroke-width="0.7"/>
<circle cx="514.10" cy="382.50" r="2.3" fill="#000" fill-opacity="0.2" stroke="#000" stroke-opacity="0.2" stroke-width="0.7"/>
<circle cx="527.69" cy="281.10" r="2.3" fill="#000" fill-opacity="0.2" stroke="#000" stroke-opacity="0.2" stroke-width="0.7"/>
<circle cx="527.24" cy="287.20" r="2.3" fill="#000" fill-opacity="0.2" stroke="#000" stroke-opacity="0.2" stroke-width="0.7"/>
<circle cx="527.16" cy="297.80" r="2.3" fill="#000" fill-opacity="0.2" stroke="#000" stroke-opacity="0.2" stroke-width="0.7"/>
<circle cx="527.20" cy="300.60" r="2.3" fill="#000" fill-opacity="0.2" stroke="#000" stroke-opacity="0.2" stroke-width="0.7"/>
<circle cx="527.35" cy="313.90" r="2.3" fill="#000" fill-opacity="0.2" stroke="#000" stroke-opacity="0.2" stroke-width="0.7"/>
<circle cx="527.30" cy="318.00" r="2.3" fill="#000" fill-opacity="0.2" stroke="#000" stroke-opacity="0.2" stroke-width="0.7"/>
<circle cx="527.71" cy="319.40" r="2.3" fill="#000" fill-opacity="0.2" stroke="#000" stroke-opacity="0.2" stroke-width="0.7"/>
<circle cx="527.95" cy="320.80" r="2.3" fill="#000" fill-opacity="0.2" stroke="#000" stroke-opacity="0.2" stroke-width="0.7"/>
<circle cx="527.75" cy="322.20" r="2.3" fill="#000" fill-opacity="0.2" stroke="#000" stroke-opacity="0.2" stroke-width="0.7"/>
<circle cx="527.62" cy="323.60" r="2.3" fill="#000" fill-opacity="0.2" stroke="#000" stroke-opacity="0.2" stroke-width="0.7"/>
<circle cx="527.89" cy="325.00" r="2.3" fill="#000" fill-opacity="0.2" stroke="#000" stroke-opacity="0.2" stroke-width="0.7"/>
<circle cx="527.48" cy="326.40" r="2.3" fill="#000" fill-opacity="0.2" stroke="#000" stroke-opacity="0.2" stroke-width="0.7"/>
<circle cx="527.67" cy="327.80" r="2.3" fill="#000" fill-opacity="0.2" stroke="#000" stroke-opacity="0.2" stroke-width="0.7"/>
<circle cx="528.02" cy="329.20" r="2.3" fill="#000" fill-opacity="0.2" stroke="#000" stroke-opacity="0.2" stroke-width="0.7"/>
<circle cx="527.59" cy="330.60" r="2.3" fill="#000" fill-opacity="0.2" stroke="#000" stroke-opacity="0.2" stroke-width="0.7"/>
<circle cx="527.33" cy="332.00" r="2.3" fill="#000" fill-opacity="0.2" stroke="#000" stroke-opacity="0.2" stroke-width="0.7"/>
<circle cx="528.19" cy="333.40" r="2.3" fill="#000" fill-opacity="0.2" stroke="#000" stroke-opacity="0.2" stroke-width="0.7"/>
<circle cx="527.97" cy="334.80" r="2.3" fill="#000" fill-opacity="0.2" stroke="#000" stroke-opacity="0.2" stroke-width="0.7"/>
<circle cx="527.55" cy="336.20" r="2.3" fill="#000" fill-opacity="0.2" stroke="#000" stroke-opacity="0.2" stroke-width="0.7"/>
<circle cx="527.56" cy="337.60" r="2.3" fill="#000" fill-opacity="0.2" stroke="#000" stroke-opacity="0.2" stroke-width="0.7"/>
<circle cx="527.75" cy="339.00" r="2.3" fill="#000" fill-opacity="0.2" stroke="#000" stroke-opacity="0.2" stroke-width="0.7"/>
<circle cx="527.83" cy="340.40" r="2.3" fill="#000" fill-opacity="0.2" stroke="#000" stroke-opacity="0.2" stroke-width="0.7"/>
<circle cx="527.38" cy="345.00" r="2.3" fill="#000" fill-opacity="0.2" stroke="#000" stroke-opacity="0.2" stroke-width="0.7"/>
<circle cx="527.11" cy="353.30" r="2.3" fill="#000" fill-opacity="0.2" stroke="#000" stroke-opacity="0.2" stroke-width="0.7"/>
<circle cx="527.36" cy="360.30" r="2.3" fill="#000" fill-opacity="0.2" stroke="#000" stroke-opacity="0.2" stroke-width="0.7"/>
<circle cx="528.05" cy="365.80" r="2.3" fill="#000" fill-opacity="0.2" stroke="#000" stroke-opacity="0.2" stroke-width="0.7"/>
<circle cx="541.20" cy="303.90" r="2.3" fill="#000" fill-opacity="0.2" stroke="#000" stroke-opacity="0.2" stroke-width="0.7"/>
<circle cx="541.58" cy="338.90" r="2.3" fill="#000" fill-opacity="0.2" stroke="#000" stroke-opacity="0.2" stroke-width="0.7"/>
<circle cx="541.26" cy="343.60" r="2.3" fill="#000" fill-opacity="0.2" stroke="#000" stroke-opacity="0.2" stroke-width="0.7"/>
<circle cx="541.28" cy="353.30" r="2.3" fill="#000" fill-opacity="0.2" stroke="#000" stroke-opacity="0.2" stroke-width="0.7"/>
<circle cx="541.23" cy="358.90" r="2.3" fill="#000" fill-opacity="0.2" stroke="#000" stroke-opacity="0.2" stroke-width="0.7"/>
<circle cx="541.51" cy="360.40" r="2.3" fill="#000" fill-opacity="0.2" stroke="#000" stroke-opacity="0.2" stroke-width="0.7"/>
<circle cx="541.23" cy="361.90" r="2.3" fill="#000" fill-opacity="0.2" stroke="#000" stroke-opacity="0.2" stroke-width="0.7"/>
<circle cx="541.06" cy="363.40" r="2.3" fill="#000" fill-opacity="0.2" stroke="#000" stroke-opacity="0.2" stroke-width="0.7"/>
<circle cx="541.16" cy="364.90" r="2.3" fill="#000" fill-opacity="0.2" stroke="#000" stroke-opacity="0.2" stroke-width="0.7"/>
<circle cx="541.23" cy="366.40" r="2.3" fill="#000" fill-opacity="0.2" stroke="#000" stroke-opacity="0.2" stroke-width="0.7"/>
<circle cx="541.62" cy="367.90" r="2.3" fill="#000" fill-opacity="0.2" stroke="#000" stroke-opacity="0.2" stroke-width="0.7"/>
<circle cx="541.10" cy="369.40" r="2.3" fill="#000" fill-opacity="0.2" stroke="#000" stroke-opacity="0.2" stroke-width="0.7"/>
<circle cx="541.06" cy="370.90" r="2.3" fill="#000" fill-opacity="0.2" stroke="#000" stroke-opacity="0.2" stroke-width="0.7"/>
<circle cx="541.57" cy="372.40" r="2.3" fill="#000" fill-opacity="0.2" stroke="#000" stroke-opacity="0.2" stroke-width="0.7"/>
<circle cx="541.52" cy="373.90" r="2.3" fill="#000" fill-opacity="0.2" stroke="#000" stroke-opacity="0.2" stroke-width="0.7"/>
<circle cx="541.87" cy="375.40" r="2.3" fill="#000" fill-opacity="0.2" stroke="#000" stroke-opacity="0.2" stroke-width="0.7"/>
<circle cx="541.09" cy="376.90" r="2.3" fill="#000" fill-opacity="0.2" stroke="#000" stroke-opacity="0.2" stroke-width="0.7"/>
<circle cx="555.43" cy="288.10" r="2.3" fill="#000" fill-opacity="0.2" stroke="#000" stroke-opacity="0.2" stroke-width="0.7"/>
<circle cx="555.43" cy="307.50" r="2.3" fill="#000" fill-opacity="0.2" stroke="#000" stroke-opacity="0.2" stroke-width="0.7"/>
<circle cx="554.98" cy="320.00" r="2.3" fill="#000" fill-opacity="0.2" stroke="#000" stroke-opacity="0.2" stroke-width="0.7"/>
<circle cx="556.11" cy="331.70" r="2.3" fill="#000" fill-opacity="0.2" stroke="#000" stroke-opacity="0.2" stroke-width="0.7"/>
<circle cx="555.21" cy="340.80" r="2.3" fill="#000" fill-opacity="0.2" stroke="#000" stroke-opacity="0.2" stroke-width="0.7"/>
<circle cx="555.06" cy="350.60" r="2.3" fill="#000" fill-opacity="0.2" stroke="#000" stroke-opacity="0.2" stroke-width="0.7"/>
<circle cx="555.52" cy="358.00" r="2.3" fill="#000" fill-opacity="0.2" stroke="#000" stroke-opacity="0.2" stroke-width="0.7"/>
<circle cx="555.15" cy="359.60" r="2.3" fill="#000" fill-opacity="0.2" stroke="#000" stroke-opacity="0.2" stroke-width="0.7"/>
<circle cx="555.70" cy="361.20" r="2.3" fill="#000" fill-opacity="0.2" stroke="#000" stroke-opacity="0.2" stroke-width="0.7"/>
<circle cx="555.37" cy="362.80" r="2.3" fill="#000" fill-opacity="0.2" stroke="#000" stroke-opacity="0.2" stroke-width="0.7"/>
<circle cx="555.10" cy="364.40" r="2.3" fill="#000" fill-opacity="0.2" stroke="#000" stroke-opacity="0.2" stroke-width="0.7"/>
<circle cx="555.01" cy="366.00" r="2.3" fill="#000" fill-opacity="0.2" stroke="#000" stroke-opacity="0.2" stroke-width="0.7"/>
<circle cx="555.82" cy="367.60" r="2.3" fill="#000" fill-opacity="0.2" stroke="#000" stroke-opacity="0.2" stroke-width="0.7"/>
<circle cx="555.28" cy="369.20" r="2.3" fill="#000" fill-opacity="0.2" stroke="#000" stroke-opacity="0.2" stroke-width="0.7"/>
<circle cx="555.90" cy="370.80" r="2.3" fill="#000" fill-opacity="0.2" stroke="#000" stroke-opacity="0.2" stroke-width="0.7"/>
<circle cx="555.51" cy="372.00" r="2.3" fill="#000" fill-opacity="0.2" stroke="#000" stroke-opacity="0.2" stroke-width="0.7"/>
<circle cx="556.07" cy="373.00" r="2.3" fill="#000" fill-opacity="0.2" stroke="#000" stroke-opacity="0.2" stroke-width="0.7"/>
<circle cx="555.31" cy="374.00" r="2.3" fill="#000" fill-opacity="0.2" stroke="#000" stroke-opacity="0.2" stroke-width="0.7"/>
<circle cx="555.25" cy="375.00" r="2.3" fill="#000" fill-opacity="0.2" stroke="#000" stroke-opacity="0.2" stroke-width="0.7"/>
<circle cx="555.27" cy="376.00" r="2.3" fill="#000" fill-opacity="0.2" stroke="#000" stroke-opacity="0.2" stroke-width="0.7"/>
<circle cx="555.93" cy="377.00" r="2.3" fill="#000" fill-opacity="0.2" stroke="#000" stroke-opacity="0.2" stroke-width="0.7"/>
<circle cx="555.70" cy="378.00" r="2.3" fill="#000" fill-opacity="0.2" stroke="#000" stroke-opacity="0.2" stroke-width="0.7"/>
</g>
<rect x="477.60" y="233.80" width="86.90" height="158.50" fill="none" stroke="#9a9a9a" stroke-width="1" />
<text x="520.35" y="245.00" font-size="10.1" text-anchor="middle" font-weight="normal" fill="#222"  textLength="76.7" lengthAdjust="spacingAndGlyphs" style="">Month <tspan font-style="italic">P</tspan> &lt; 0.001</text>
<text x="520.95" y="257.35" font-size="10.1" text-anchor="middle" font-weight="normal" fill="#222"  textLength="71.1" lengthAdjust="spacingAndGlyphs" style="">Depth <tspan font-style="italic">P</tspan> = 0.06</text>
<text x="520.50" y="269.70" font-size="10.1" text-anchor="middle" font-weight="normal" fill="#222"  textLength="66.8" lengthAdjust="spacingAndGlyphs" style="">M × D <tspan font-style="italic">P</tspan> = 0.32</text>
<text x="474.60" y="384.80" font-size="9.0" text-anchor="end" font-weight="normal" fill="#333333"  textLength="5.75" lengthAdjust="spacingAndGlyphs" style="">0</text>
<text x="474.60" y="348.50" font-size="9.0" text-anchor="end" font-weight="normal" fill="#333333"  textLength="5.75" lengthAdjust="spacingAndGlyphs" style="">2</text>
<text x="474.60" y="312.20" font-size="9.0" text-anchor="end" font-weight="normal" fill="#333333"  textLength="5.75" lengthAdjust="spacingAndGlyphs" style="">4</text>
<text x="474.60" y="275.90" font-size="9.0" text-anchor="end" font-weight="normal" fill="#333333"  textLength="5.75" lengthAdjust="spacingAndGlyphs" style="">6</text>
<text x="474.60" y="239.60" font-size="9.0" text-anchor="end" font-weight="normal" fill="#333333"  textLength="5.75" lengthAdjust="spacingAndGlyphs" style="">8</text>
<text x="458.50" y="312.40" font-size="10.3" text-anchor="middle" fill="#262626" textLength="99.39999999999999" lengthAdjust="spacingAndGlyphs" transform="rotate(-90 458.50 312.40)">Nitrate (µg N g<tspan dy="-3.6" font-size="7.2">−1</tspan><tspan dy="3.6"> soil)</tspan></text>
<text x="489.95" y="399.80" font-size="9.1" text-anchor="end" fill="#333333" transform="rotate(-45 489.95 399.80)">Sept</text>
<text x="503.87" y="399.80" font-size="9.1" text-anchor="end" fill="#333333" transform="rotate(-45 503.87 399.80)">Mar</text>
<text x="517.79" y="399.80" font-size="9.1" text-anchor="end" fill="#333333" transform="rotate(-45 517.79 399.80)">May</text>
<text x="531.71" y="399.80" font-size="9.1" text-anchor="end" fill="#333333" transform="rotate(-45 531.71 399.80)">Jun</text>
<text x="545.63" y="399.80" font-size="9.1" text-anchor="end" fill="#333333" transform="rotate(-45 545.63 399.80)">July</text>
<text x="559.55" y="399.80" font-size="9.1" text-anchor="end" fill="#333333" transform="rotate(-45 559.55 399.80)">Sept</text>
<polyline points="489.70,414.20 489.70,417.50 511.00,417.50 511.00,414.20" fill="none" stroke="#777" stroke-width="0.9"/>
<line x1="500.35" y1="417.50" x2="500.35" y2="421.80" stroke="#777" stroke-width="0.9" />
<text x="499.80" y="431.80" font-size="10.3" text-anchor="middle" font-weight="normal" fill="#262626"  textLength="47.3" lengthAdjust="spacingAndGlyphs" style="">Snowmelt</text>
<text x="435.60" y="241.00" font-size="15" text-anchor="start" font-weight="bold" fill="#000"  style="">i</text>
</svg></body></html>
